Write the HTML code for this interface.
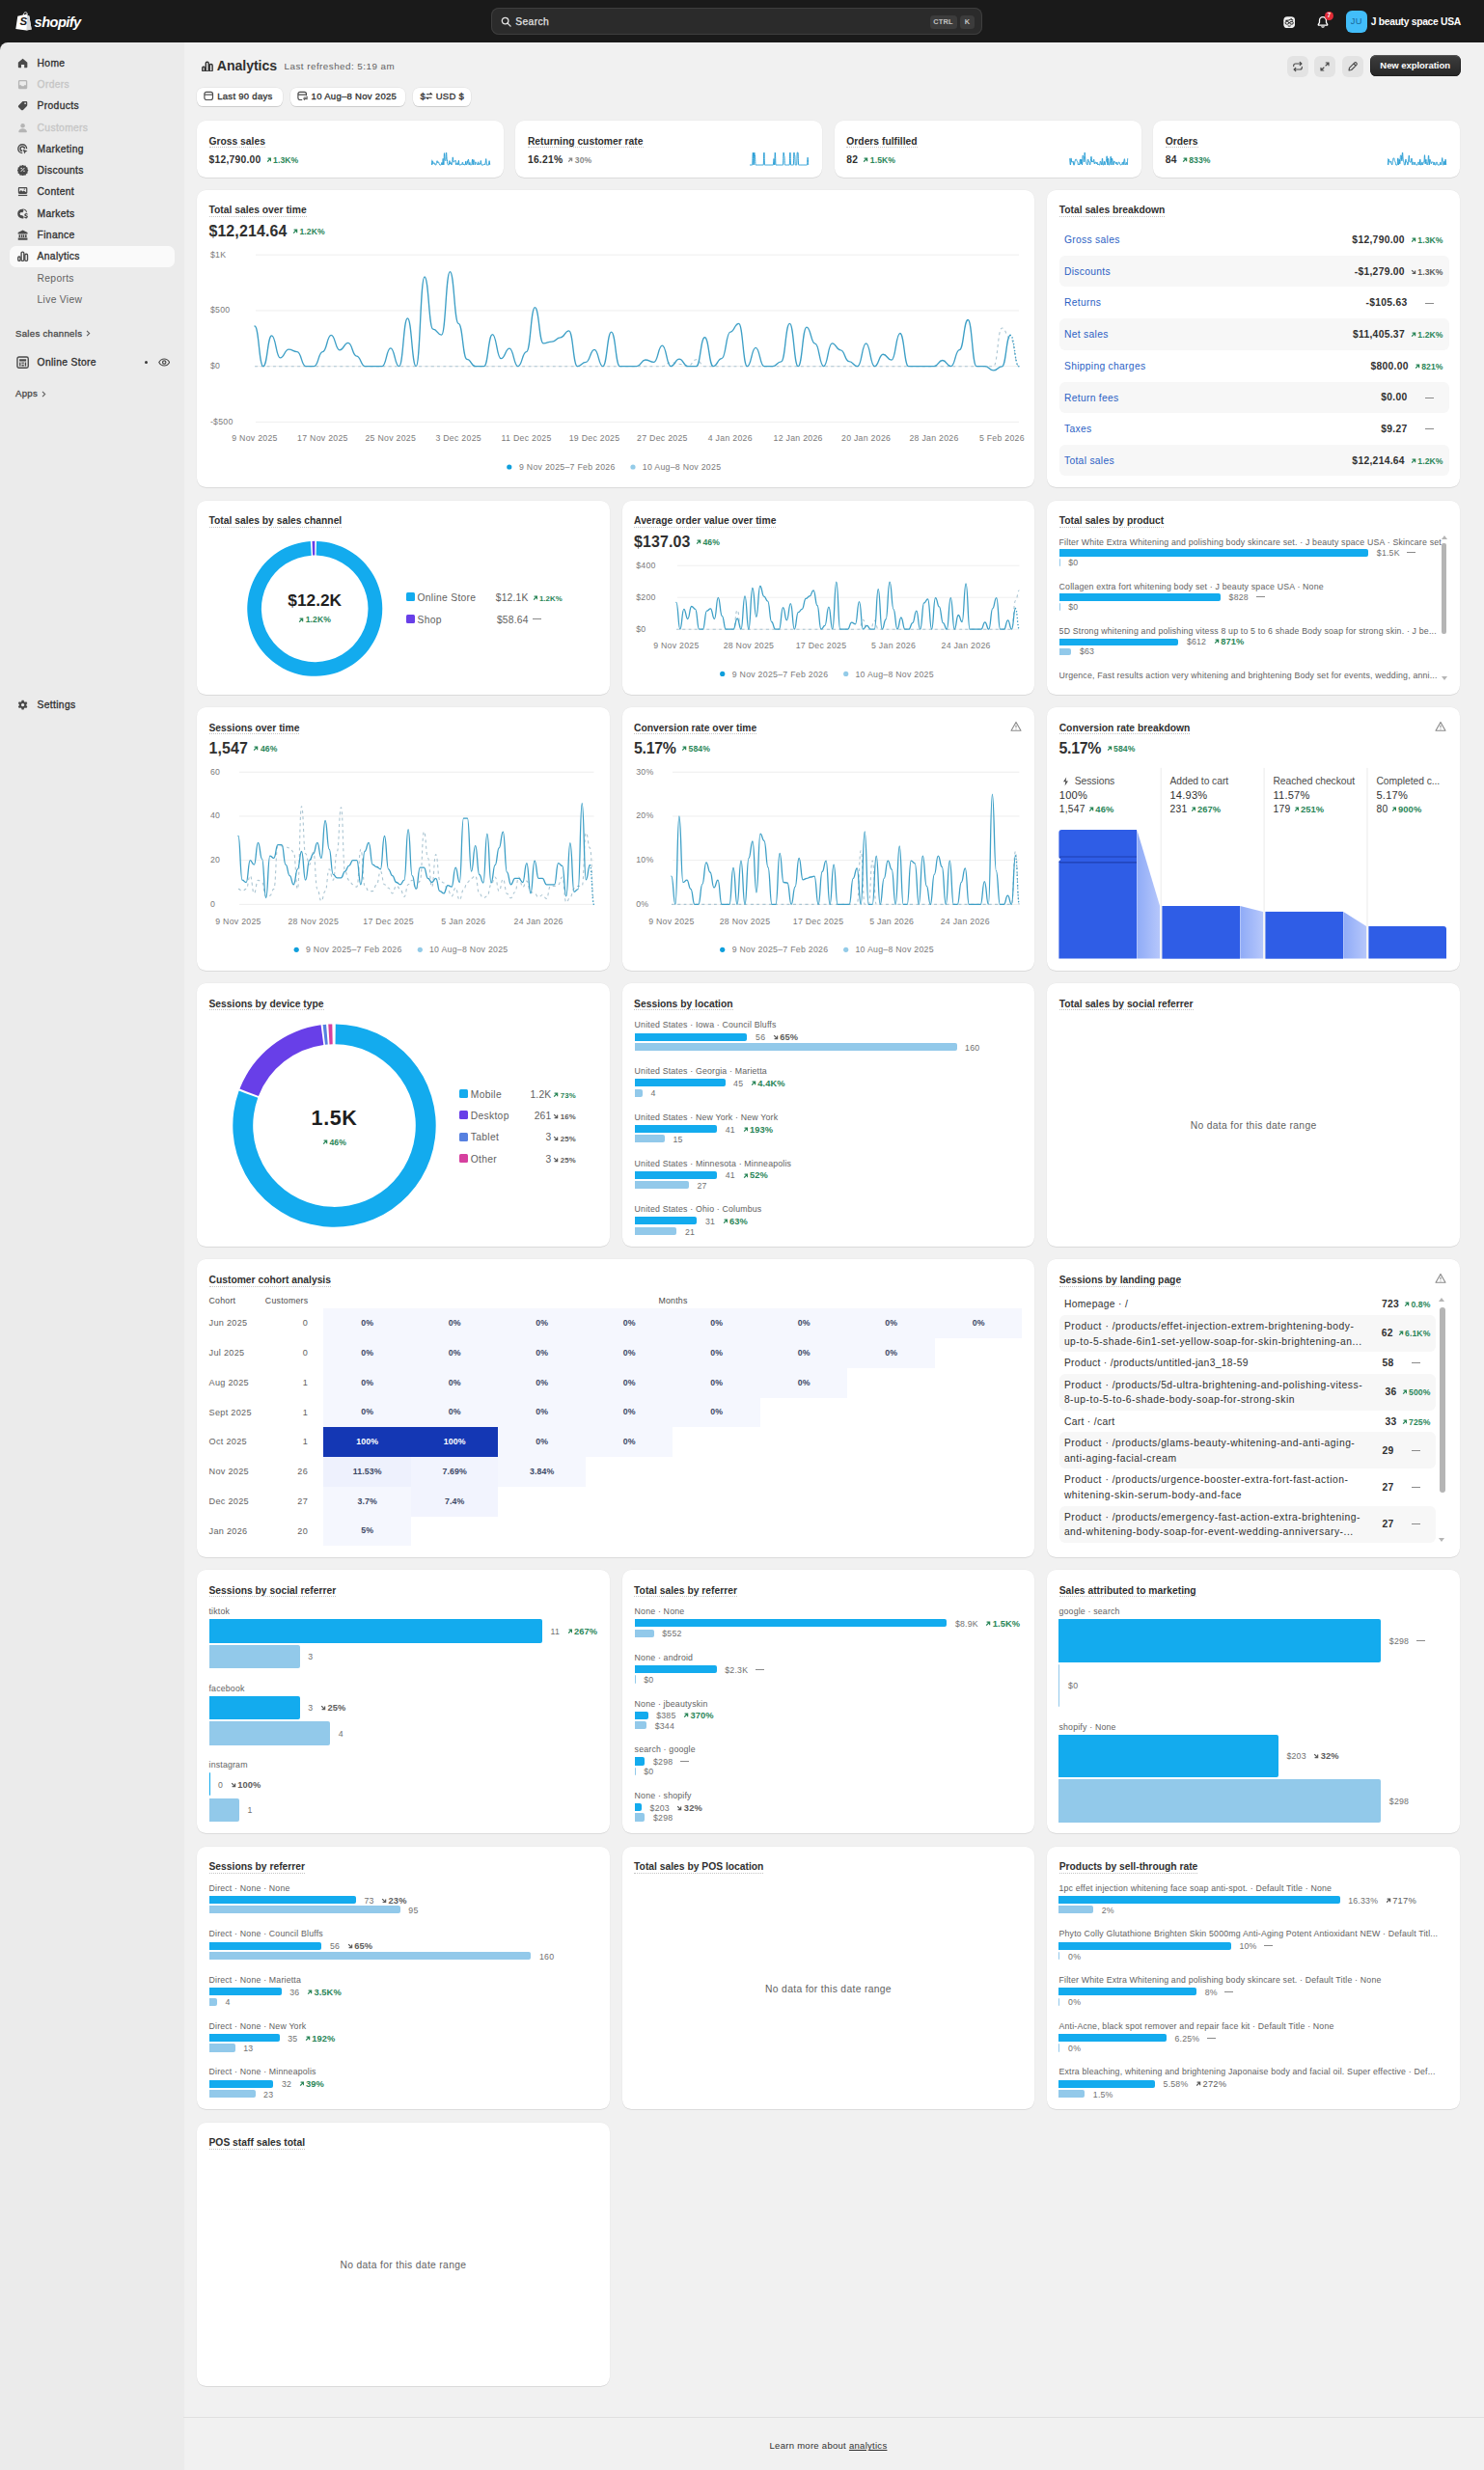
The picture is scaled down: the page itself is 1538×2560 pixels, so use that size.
<!DOCTYPE html><html lang="en"><head><meta charset="utf-8"><title>Analytics</title><style>
*{box-sizing:border-box;margin:0;padding:0}
html,body{width:1538px;height:2560px;overflow:hidden}
body{background:#1a1a1a;font-family:"Liberation Sans",sans-serif;font-size:10.3px;color:#303030;position:relative;-webkit-font-smoothing:antialiased}
.abs{position:absolute}
#top{position:absolute;left:0;top:0;width:1538px;height:44.3px;background:#1a1a1a}
#side{position:absolute;left:0;top:44.3px;width:190.5px;height:2516px;background:#ebebeb;border-top-left-radius:8px}
#main{position:absolute;left:190.5px;top:44.3px;width:1347.5px;height:2516px;background:#f1f1f1}
.card{position:absolute;background:#fff;border-radius:9.5px;box-shadow:0 1px 0 rgba(0,0,0,.075),0 0 0 .5px rgba(0,0,0,.035)}
.ct{position:absolute;left:12.5px;top:14.5px;font-weight:bold;font-size:10.3px;line-height:13px;white-space:nowrap;color:#303030}
.ct span{border-bottom:1.2px dotted #c4c4c4;padding-bottom:0;display:inline-block;line-height:11.6px}
.big{position:absolute;left:12.4px;top:34px;font-weight:bold;font-size:15.9px;line-height:18px;white-space:nowrap;color:#303030;letter-spacing:.15px}
.tr{font-weight:bold;font-size:8.6px;white-space:nowrap;letter-spacing:.1px}
.tr.up{color:#2a8659}.tr.dn{color:#5c5c5c}.tr.gy{color:#8a8a8a}
.ar{width:5.8px;height:5.8px;margin-right:1.6px;display:inline-block;vertical-align:.2px}.big .tr{position:relative;top:-1.7px}
.dash{display:inline-block;width:9px;height:1px;background:#8a8a8a;vertical-align:3px}
.ax{font-size:8.75px;fill:#7a7a7a;letter-spacing:.28px;font-family:"Liberation Sans",sans-serif}
.lc{position:absolute;left:0;top:0}
.warn{position:absolute;right:13.5px;top:13.6px;width:12px;height:12px}
.hl{position:absolute;font-size:8.75px;line-height:10px;color:#616161;letter-spacing:.19px;white-space:nowrap}
.hb{position:absolute;border-radius:0 2px 2px 0}
.b1{background:#13abee}.b2{background:#92c9ea}
.hv{position:absolute;font-size:8.75px;color:#707070;white-space:nowrap;letter-spacing:.2px}
.hv .tr{margin-left:5px;font-size:9.3px}
.nodata{position:absolute;left:0;width:100%;text-align:center;font-size:10.3px;color:#616161;letter-spacing:.33px;line-height:12px}

.sa{width:0;height:0;border-left:3px solid transparent;border-right:3px solid transparent}
.fl{font-size:10.3px;line-height:12px;color:#4a4a4a;letter-spacing:-.05px;white-space:nowrap}
.tr.xs{font-size:7.8px}
.tr.f{font-size:9.4px}

.ch{font-size:8.75px;line-height:11px;color:#4a4a4a;letter-spacing:.25px;white-space:nowrap}
.cl{font-size:9.1px;line-height:11px;color:#616161;letter-spacing:.3px;white-space:nowrap}
.cc{font-size:8.75px;font-weight:bold;text-align:center;letter-spacing:.1px}

.nv{font-size:10.300px;line-height:13px;letter-spacing:.33px;white-space:nowrap;color:#303030;-webkit-text-stroke:.32px currentColor}
.nv2{font-size:10.300px;line-height:13px;letter-spacing:.3px;white-space:nowrap;color:#616161}
.sh{font-size:9.600px;line-height:12px;color:#4a4a4a;white-space:nowrap;letter-spacing:.3px;-webkit-text-stroke:.3px currentColor}
.kbd{top:15.600px;height:14.500px;border-radius:3.500px;background:#3c3c3c;color:#c4c4c4;font-size:7.400px;font-weight:bold;line-height:14.500px;text-align:center;letter-spacing:.2px}
.chip{height:19.600px;border-radius:6.300px;background:#fff;box-shadow:0 1px 0 rgba(0,0,0,.12),0 0 0 .5px rgba(0,0,0,.07);font-size:9.500px;line-height:18.200px;padding-left:7.600px;white-space:nowrap;color:#303030;letter-spacing:.3px;-webkit-text-stroke:.3px currentColor}
</style></head><body><div id="top"><svg class="abs" style="left:15.800px;top:12px" width="17" height="19.600" viewBox="0 0 17 19.600"><path d="M2.300 4.700L10.200 3.100 11.200 2.600l1 .2.500 1.400 1.600.3 2.400 14.100-5.400 1L.3 18.100z" fill="#fff"/><path d="M8.200 4c0-1.700 1-3.300 2.500-3.300 1 0 1.500.9 1.600 2.300" fill="none" stroke="#fff" stroke-width=".9"/><path d="M12.300 2.900l-.9 16.500 5.300-1L14.300 4.500l-1.500-.3z" fill="#d9d9d9"/></svg><div class="abs" style="left:20.400px;top:14.600px;font-weight:bold;font-style:italic;font-size:11.500px;line-height:14px;color:#1a1a1a">S</div><div class="abs" style="left:35.600px;top:12.500px;font-weight:bold;font-style:italic;font-size:14.600px;line-height:20px;color:#fff;letter-spacing:-.55px">shopify</div><div class="abs" style="left:508.500px;top:7.800px;width:509px;height:28.500px;border-radius:8px;background:#2b2b2b;box-shadow:inset 0 0 0 1px #3e3e3e"></div><svg class="abs" style="left:518.500px;top:16.600px" width="11" height="11" viewBox="0 0 11 11"><circle cx="4.600" cy="4.600" r="3.300" fill="none" stroke="#e3e3e3" stroke-width="1.300"/><path d="M7.100 7.100l3 3" stroke="#e3e3e3" stroke-width="1.300" stroke-linecap="round"/></svg><div class="abs" style="left:534.300px;top:15.700px;font-size:10.300px;line-height:13px;color:#e3e3e3;letter-spacing:.35px;-webkit-text-stroke:.25px #e3e3e3">Search</div><div class="abs kbd" style="left:963.500px;width:28.200px">CTRL</div><div class="abs kbd" style="left:994.700px;width:15.600px">K</div><svg class="abs" style="left:1329.800px;top:16.800px" width="12.400" height="12.400" viewBox="0 0 12.400 12.400"><rect x=".3" y=".3" width="11.800" height="11.800" rx="3.900" fill="#f1f1f1"/><path d="M2.300 4.300c2.200.300 4.300-.200 6-1.600.500.700 1.100 1.200 1.900 1.500" fill="none" stroke="#1a1a1a" stroke-width="1.100"/><rect x="2.200" y="5.400" width="3.300" height="2.700" rx="1.100" fill="none" stroke="#1a1a1a" stroke-width=".95"/><rect x="6.900" y="5.400" width="3.300" height="2.700" rx="1.100" fill="none" stroke="#1a1a1a" stroke-width=".95"/><path d="M5.500 6.500h1.400M4.700 9.800c1 .500 2 .500 3 0" fill="none" stroke="#1a1a1a" stroke-width=".9"/></svg><svg class="abs" style="left:1364.800px;top:16px" width="12" height="13.400" viewBox="0 0 12 13.400"><path d="M6 1.700c-2.100 0-3.500 1.600-3.500 3.600v2.100L1.300 9.300c-.2.400 0 .8.500.8h8.400c.5 0 .7-.4.500-.8L9.500 7.400V5.300C9.500 3.300 8.100 1.700 6 1.700z" fill="none" stroke="#fff" stroke-width="1.300"/><path d="M4.600 11.300c.3.600.8.900 1.400.9s1.100-.3 1.400-.9" fill="none" stroke="#fff" stroke-width="1.200"/></svg><div class="abs" style="left:1373px;top:12.300px;width:8.600px;height:8.600px;border-radius:5px;background:#e22c38;color:#fff;font-size:6.500px;font-weight:bold;line-height:8.600px;text-align:center">7</div><div class="abs" style="left:1394.600px;top:11.300px;width:22.300px;height:22.300px;border-radius:6.200px;background:#42bdf9;color:#17679a;font-size:9.300px;line-height:22.300px;text-align:center;letter-spacing:.2px">JU</div><div class="abs" style="left:1420.800px;top:16px;font-size:10.300px;line-height:13px;font-weight:bold;color:#fff;white-space:nowrap;letter-spacing:-.3px">J beauty space USA</div></div><div id="side"><div class="abs" style="left:10px;top:210.6px;width:171.3px;height:21.8px;border-radius:6.5px;background:#fafafa"></div><svg class="abs" style="left:18.4px;top:15.6px;color:#4a4a4a" width="11.2" height="11.2" viewBox="0 0 12 12" fill="currentColor"><path d="M6 .9L.9 5.2V10.2c0 .5.4.9.9.9H4.3V7.6h3.4v3.5h2.5c.5 0 .9-.4.9-.9V5.2z"/></svg><div class="abs nv" style="left:38.6px;top:14.7px;color:#303030">Home</div><svg class="abs" style="left:18.4px;top:37.9px;color:#b5b5b5" width="11.2" height="11.2" viewBox="0 0 12 12" fill="currentColor"><path fill-rule="evenodd" d="M2.6 1h6.8c.9 0 1.6.7 1.6 1.6v6.8c0 .9-.7 1.6-1.6 1.6H2.6C1.700 11 1 10.300 1 9.400V2.600C1 1.700 1.700 1 2.600 1zM2.400 6.600h1.800l.7 1.300h2.200l.7-1.300h1.800V2.900c0-.3-.2-.5-.5-.5H2.900c-.3 0-.5.2-.5.5z"/></svg><div class="abs nv" style="left:38.6px;top:37px;color:#c6c6c6">Orders</div><svg class="abs" style="left:18.4px;top:60.1px;color:#4a4a4a" width="11.2" height="11.2" viewBox="0 0 12 12" fill="currentColor"><path fill-rule="evenodd" d="M6.700 1h3.200c.6 0 1.100.5 1.100 1.100v3.200c0 .4-.2.800-.4 1.100L6.400 10.600c-.6.600-1.500.600-2.100 0L1.400 7.700c-.6-.6-.6-1.500 0-2.100L5.600 1.400c.3-.2.700-.4 1.100-.4zM8.700 4.300a1 1 0 100-2 1 1 0 000 2z"/></svg><div class="abs nv" style="left:38.6px;top:59.2px;color:#303030">Products</div><svg class="abs" style="left:18.4px;top:82.5px;color:#b5b5b5" width="11.2" height="11.2" viewBox="0 0 12 12" fill="currentColor"><circle cx="6" cy="3.400" r="2.400"/><path d="M1.400 10.300c0-2.400 2-3.700 4.600-3.700s4.600 1.300 4.600 3.700c0 .4-.3.700-.7.700H2.100c-.4 0-.7-.3-.7-.7z"/></svg><div class="abs nv" style="left:38.6px;top:81.6px;color:#c6c6c6">Customers</div><svg class="abs" style="left:18.4px;top:104.7px;color:#4a4a4a" width="11.2" height="11.2" viewBox="0 0 12 12" fill="currentColor"><path fill="none" stroke="currentColor" stroke-width="1.550" d="M10.300 5.600A4.700 4.700 0 105.600 10.300M7.900 5.600A2.300 2.300 0 105.600 7.900"/><path d="M6.100 6.100l5.200 1.900-2.200 1.100-1.100 2.200z"/></svg><div class="abs nv" style="left:38.6px;top:103.8px;color:#303030">Marketing</div><svg class="abs" style="left:18.4px;top:126.9px;color:#4a4a4a" width="11.2" height="11.2" viewBox="0 0 12 12" fill="currentColor"><path fill-rule="evenodd" d="M6 .5l1.400 1 1.700-.2.700 1.600 1.600.7-.2 1.700 1 1.400-1 1.400.2 1.700-1.600.7-.7 1.600-1.700-.2-1.400 1-1.400-1-1.700.2-.7-1.600-1.600-.7.2-1.700-1-1.400 1-1.400-.2-1.700 1.600-.7.700-1.600 1.700.2zM4.500 5.300a.8.8 0 100-1.600.8.8 0 000 1.600zM7.500 8.300a.8.8 0 100-1.600.8.8 0 000 1.600zM4.200 8.300l4.100-4.100-.6-.6-4.100 4.100z" transform="translate(0 -.7)"/></svg><div class="abs nv" style="left:38.6px;top:126px;color:#303030">Discounts</div><svg class="abs" style="left:18.4px;top:149.1px;color:#4a4a4a" width="11.2" height="11.2" viewBox="0 0 12 12" fill="currentColor"><path fill-rule="evenodd" d="M2.300 1h7.400c.8 0 1.400.6 1.400 1.400v4.700c0 .8-.6 1.400-1.400 1.400H2.300C1.500 8.500.9 7.900.9 7.100V2.400C.9 1.600 1.500 1 2.300 1zM2.200 6.300l2-2 1.600 1.500 1.300-1 2.700 2V2.700c0-.2-.2-.4-.4-.4H2.600c-.2 0-.4.200-.4.400zM7.800 4a.7.7 0 100-1.400.7.7 0 000 1.400z"/><path d="M1 9.500h10v1.300H1z"/></svg><div class="abs nv" style="left:38.6px;top:148.2px;color:#303030">Content</div><svg class="abs" style="left:18.4px;top:171.4px;color:#4a4a4a" width="11.2" height="11.2" viewBox="0 0 12 12" fill="currentColor"><path fill-rule="evenodd" d="M5.500.700a5.300 5.300 0 100 10.600c.5 0 1-.100 1.500-.200V8.900L5.400 7.700l-2-.200-.8-1.700 1.300-1.600 1.900.300 1.100-1.500-.500-1.600c1.500.300 2.700 1.300 3.300 2.600h1.200A5.300 5.300 0 005.500.700z"/><path d="M9.300 5v.700c-.9.100-1.500.700-1.500 1.500 0 1 .8 1.300 1.500 1.500.6.200.8.300.8.600 0 .200-.2.400-.7.400-.4 0-.9-.200-1.200-.500l-.6.900c.4.400 1 .600 1.600.700v.700h1v-.700c.9-.100 1.500-.700 1.500-1.600 0-1-.800-1.300-1.500-1.500-.6-.200-.8-.300-.8-.500 0-.300.200-.400.600-.400s.7.100 1 .400l.6-.900c-.3-.300-.8-.500-1.300-.600V5z"/></svg><div class="abs nv" style="left:38.6px;top:170.5px;color:#303030">Markets</div><svg class="abs" style="left:18.4px;top:193.6px;color:#4a4a4a" width="11.2" height="11.2" viewBox="0 0 12 12" fill="currentColor"><path d="M6 .5l5.300 2.600v1.700H.7V3.100zM1.700 5.500h1.700v3H1.700zM4.200 5.500h1.500v3H4.200zM6.300 5.500h1.500v3H6.300zM8.600 5.500h1.700v3H8.600zM.8 9.200h10.400v2.200H.8z"/></svg><div class="abs nv" style="left:38.6px;top:192.7px;color:#303030">Finance</div><svg class="abs" style="left:18.4px;top:215.9px;color:#4a4a4a" width="11.2" height="11.2" viewBox="0 0 12 12" fill="currentColor"><g fill="none" stroke="currentColor" stroke-width="1.45"><rect x=".8" y="6.4" width="2.500" height="4.700" rx="1.100"/><rect x="4.400" y="1.200" width="2.900" height="9.900" rx="1.300"/><rect x="8.400" y="3.500" width="2.900" height="7.600" rx="1.300"/></g></svg><div class="abs nv" style="left:38.6px;top:215px;color:#303030">Analytics</div><div class="abs nv2" style="left:38.6px;top:237.4px">Reports</div><div class="abs nv2" style="left:38.6px;top:259.6px">Live View</div><div class="abs sh" style="left:16px;top:295.9px">Sales channels<svg width="5" height="7" viewBox="0 0 5 7" style="margin-left:4px;vertical-align:-.3px"><path d="M1 .8l2.700 2.700L1 6.200" fill="none" stroke="#616161" stroke-width="1.100"/></svg></div><svg class="abs" style="left:17.4px;top:324.7px;color:#4a4a4a" width="12.8" height="12.8" viewBox="0 0 12 12" fill="currentColor"><path fill="none" stroke="currentColor" stroke-width="1.300" d="M2.500.9h7.400c.9 0 1.600.7 1.600 1.600v7.400c0 .9-.7 1.600-1.600 1.600H2.500c-.9 0-1.600-.7-1.600-1.600V2.500C.9 1.600 1.600.9 2.500.9z"/><path d="M2.900 3h6.600v2.200H2.900zM2.900 6.100h1.300v3.800H2.900zM8.200 6.100h1.300v3.800H8.200zM5 6.100h2.400v1.200H5zM5.100 8.200h2.200v1.700H5.100z"/></svg><div class="abs nv" style="left:38.6px;top:324.6px">Online Store</div><div class="abs" style="left:149.8px;top:330px;width:3.200px;height:3.200px;border-radius:2px;background:#3a3a3a"></div><svg class="abs" style="left:164px;top:326.7px" width="12.400" height="9" viewBox="0 0 12.400 9"><path d="M.8 4.500C2 2.200 3.900 1 6.200 1s4.200 1.200 5.400 3.500C10.400 6.800 8.500 8 6.200 8S2 6.800.8 4.500z" fill="none" stroke="#4a4a4a" stroke-width="1.200"/><circle cx="6.200" cy="4.500" r="1.700" fill="none" stroke="#4a4a4a" stroke-width="1.200"/></svg><div class="abs sh" style="left:16px;top:358px">Apps<svg width="5" height="7" viewBox="0 0 5 7" style="margin-left:4px;vertical-align:-.3px"><path d="M1 .8l2.700 2.700L1 6.200" fill="none" stroke="#616161" stroke-width="1.100"/></svg></div><svg class="abs" style="left:18.4px;top:680.8px;color:#4a4a4a" width="11.2" height="11.2" viewBox="0 0 12 12" fill="currentColor"><path fill-rule="evenodd" d="M4.900.7h2.200l.4 1.500 1 .6 1.500-.5 1.100 1.900-1.100 1.100v1.200l1.100 1.100-1.100 1.900-1.500-.5-1 .6-.4 1.500H4.900l-.4-1.500-1-.6-1.500.5L.9 7.600 2 6.500V5.300L.9 4.200 2 2.300l1.500.5 1-.6zM6 7.700a1.800 1.800 0 100-3.600 1.800 1.800 0 000 3.600z" transform="translate(0 .1)"/></svg><div class="abs nv" style="left:38.6px;top:679.9px">Settings</div></div><div id="main"></div><svg class="abs" style="left:208.8px;top:62.7px;color:#303030" width="11.8" height="11.8" viewBox="0 0 12 12" fill="currentColor"><g fill="none" stroke="currentColor" stroke-width="1.45"><rect x=".8" y="6.4" width="2.500" height="4.700" rx="1.100"/><rect x="4.400" y="1.200" width="2.900" height="9.900" rx="1.300"/><rect x="8.400" y="3.500" width="2.900" height="7.600" rx="1.300"/></g></svg><div class="abs" style="left:224.800px;top:59.300px;font-size:14.100px;font-weight:bold;line-height:18px;color:#303030;letter-spacing:-.05px">Analytics</div><div class="abs" style="left:294.600px;top:63.100px;font-size:9.800px;line-height:12px;color:#616161;letter-spacing:.48px;white-space:nowrap">Last refreshed: 5:19 am</div><div class="abs chip" style="left:203.8px;top:90.500px;width:89.5px"><svg width="10.400" height="10.400" viewBox="0 0 10.400 10.400" style="vertical-align:-1.800px;margin-right:3.400px"><rect x=".9" y="1.400" width="8.600" height="8.100" rx="2" fill="none" stroke="#4a4a4a" stroke-width="1.150"/><path d="M.9 4.100h8.600" stroke="#4a4a4a" stroke-width="1.150"/></svg>Last 90 days</div><div class="abs chip" style="left:300.8px;top:90.500px;width:119.5px"><svg width="11.400" height="10.400" viewBox="0 0 11.400 10.400" style="vertical-align:-1.800px;margin-right:2.800px"><path d="M5.200 9.500H2.900c-1.100 0-2-.9-2-2V3.400c0-1.100.9-2 2-2h4.600c1.100 0 2 .9 2 2v1.800M.9 4.100h8.600" fill="none" stroke="#4a4a4a" stroke-width="1.150"/><path d="M6.600 7.100h4.200l-1.100-1.100M10.800 8.600H6.600l1.100 1.100" fill="none" stroke="#4a4a4a" stroke-width="1"/></svg>10 Aug–8 Nov 2025</div><div class="abs chip" style="left:428px;top:90.500px;width:59.8px"><span style="letter-spacing:-.2px">$</span><svg width="7.500" height="9" viewBox="0 0 7.500 9" style="vertical-align:-1px;margin:0 3px 0 .5px"><path d="M1 2.800h5.400L4.800 1.200M6.500 6.200H1.100l1.600 1.600" fill="none" stroke="#303030" stroke-width="1.100"/></svg>USD $</div><div class="abs" style="left:1334px;top:57.500px;width:21.800px;height:22px;border-radius:6.200px;background:#e3e3e3"></div><svg class="abs" style="left:1338.9px;top:62.500px" width="12" height="12" viewBox="0 0 12 12" fill="none" stroke="#4a4a4a" stroke-width="1.150" stroke-linecap="round" stroke-linejoin="round"><path d="M1.700 5.600V5c0-1.100.9-2 2-2h6M8.200 1.300L9.900 3 8.200 4.700M10.300 6.400V7c0 1.100-.9 2-2 2h-6M3.800 10.700L2.100 9l1.700-1.700"/></svg><div class="abs" style="left:1362.4px;top:57.500px;width:21.800px;height:22px;border-radius:6.200px;background:#e3e3e3"></div><svg class="abs" style="left:1367.3px;top:62.500px" width="12" height="12" viewBox="0 0 12 12" fill="none" stroke="#4a4a4a" stroke-width="1.150" stroke-linecap="round" stroke-linejoin="round"><path d="M7.200 2h2.800v2.800M10 2L7 5M4.800 10H2V7.200M2 10l3-3"/></svg><div class="abs" style="left:1391px;top:57.500px;width:21.800px;height:22px;border-radius:6.200px;background:#e3e3e3"></div><svg class="abs" style="left:1395.9px;top:62.500px" width="12" height="12" viewBox="0 0 12 12" fill="none" stroke="#4a4a4a" stroke-width="1.150" stroke-linecap="round" stroke-linejoin="round"><path d="M7.700 2.200c.6-.6 1.500-.6 2.100 0s.6 1.500 0 2.100L4.600 9.500 2 10l.5-2.600zM7 3l2 2"/></svg><div class="abs" style="left:1419.600px;top:57.100px;width:94.100px;height:22.300px;border-radius:6.400px;background:linear-gradient(#3d3d3d,#262626);box-shadow:inset 0 1px 0 rgba(255,255,255,.2),inset 0 0 0 .6px #1a1a1a;color:#fff;font-weight:bold;font-size:9.500px;line-height:22.400px;text-align:center;letter-spacing:-.05px">New exploration</div><div class="card " style="left:204px;top:125px;width:317.7px;height:59.4px"><div class="ct" style="top:14.6px"><span>Gross sales</span></div><div class="abs" style="left:12.5px;top:33.6px;font-weight:bold;font-size:10.3px;line-height:13px;white-space:nowrap;letter-spacing:.25px">$12,790.00 <span style="margin-left:2px"><span class="tr up "><svg class="ar" viewBox="0 0 8 8"><path d="M2.2 1.6h4.2v4.2M6.2 1.8L1.6 6.4" fill="none" stroke="currentColor" stroke-width="1.7"/></svg>1.3K%</span></span></div><svg class="abs" style="left:242.9px;top:32.1px" width="62" height="15" viewBox="0 0 62 15"><path d="M0.0,8.5C0.3,8.5 0.3,14.0 0.7,14.0C1.0,14.0 1.0,9.8 1.4,9.8C1.7,9.8 1.7,12.8 2.0,12.8C2.4,12.8 2.4,11.7 2.7,11.7C3.0,11.7 3.0,12.0 3.4,12.0C3.7,12.0 3.7,14.0 4.1,14.0C4.4,14.0 4.4,14.0 4.7,14.0C5.1,14.0 5.1,12.0 5.4,12.0C5.7,12.0 5.7,9.7 6.1,9.7C6.4,9.7 6.4,11.8 6.8,11.8C7.1,11.8 7.1,10.8 7.4,10.8C7.8,10.8 7.8,12.6 8.1,12.6C8.4,12.6 8.4,14.0 8.8,14.0C9.1,14.0 9.1,14.0 9.5,14.0C9.8,14.0 9.8,14.0 10.1,14.0C10.5,14.0 10.5,11.5 10.8,11.5C11.1,11.5 11.1,14.0 11.5,14.0C11.8,14.0 11.8,7.4 12.2,7.4C12.5,7.4 12.5,14.0 12.8,14.0C13.2,14.0 13.2,1.7 13.5,1.7C13.8,1.7 13.8,8.9 14.2,8.9C14.5,8.9 14.5,9.7 14.9,9.7C15.2,9.7 15.2,1.0 15.5,1.0C15.9,1.0 15.9,8.1 16.2,8.1C16.6,8.1 16.6,13.0 16.9,13.0C17.2,13.0 17.2,14.0 17.6,14.0C17.9,14.0 17.9,14.0 18.2,14.0C18.6,14.0 18.6,9.6 18.9,9.6C19.3,9.6 19.3,12.9 19.6,12.9C19.9,12.9 19.9,11.5 20.3,11.5C20.6,11.5 20.6,14.0 20.9,14.0C21.3,14.0 21.3,12.0 21.6,12.0C22.0,12.0 22.0,5.9 22.3,5.9C22.6,5.9 22.6,10.8 23.0,10.8C23.3,10.8 23.3,10.6 23.6,10.6C24.0,10.6 24.0,10.0 24.3,10.0C24.7,10.0 24.7,9.1 25.0,9.1C25.3,9.1 25.3,14.0 25.7,14.0C26.0,14.0 26.0,13.4 26.3,13.4C26.7,13.4 26.7,11.7 27.0,11.7C27.4,11.7 27.4,14.0 27.7,14.0C28.0,14.0 28.0,9.3 28.4,9.3C28.7,9.3 28.7,14.0 29.0,14.0C29.4,14.0 29.4,14.0 29.7,14.0C30.1,14.0 30.1,14.0 30.4,14.0C30.7,14.0 30.7,13.1 31.1,13.1C31.4,13.1 31.4,13.4 31.8,13.4C32.1,13.4 32.1,11.1 32.4,11.1C32.8,11.1 32.8,14.0 33.1,14.0C33.4,14.0 33.4,13.0 33.8,13.0C34.1,13.0 34.1,14.0 34.5,14.0C34.8,14.0 34.8,14.0 35.1,14.0C35.5,14.0 35.5,10.0 35.8,10.0C36.1,10.0 36.1,14.0 36.5,14.0C36.8,14.0 36.8,12.9 37.2,12.9C37.5,12.9 37.5,9.3 37.8,9.3C38.2,9.3 38.2,8.1 38.5,8.1C38.8,8.1 38.8,14.0 39.2,14.0C39.5,14.0 39.5,11.4 39.9,11.4C40.2,11.4 40.2,14.0 40.5,14.0C40.9,14.0 40.9,14.0 41.2,14.0C41.5,14.0 41.5,13.4 41.9,13.4C42.2,13.4 42.2,8.1 42.6,8.1C42.9,8.1 42.9,14.0 43.2,14.0C43.6,14.0 43.6,8.6 43.9,8.6C44.2,8.6 44.2,10.9 44.6,10.9C44.9,10.9 44.9,14.0 45.3,14.0C45.6,14.0 45.6,10.8 45.9,10.8C46.3,10.8 46.3,11.8 46.6,11.8C47.0,11.8 47.0,13.3 47.3,13.3C47.6,13.3 47.6,14.0 48.0,14.0C48.3,14.0 48.3,10.8 48.6,10.8C49.0,10.8 49.0,14.0 49.3,14.0C49.7,14.0 49.7,12.4 50.0,12.4C50.3,12.4 50.3,13.1 50.7,13.1C51.0,13.1 51.0,9.5 51.3,9.5C51.7,9.5 51.7,14.0 52.0,14.0C52.4,14.0 52.4,14.0 52.7,14.0C53.0,14.0 53.0,14.0 53.4,14.0C53.7,14.0 53.7,14.0 54.0,14.0C54.4,14.0 54.4,13.2 54.7,13.2C55.1,13.2 55.1,14.0 55.4,14.0C55.7,14.0 55.7,11.7 56.1,11.7C56.4,11.7 56.4,7.6 56.7,7.6C57.1,7.6 57.1,14.0 57.4,14.0C57.8,14.0 57.8,14.0 58.1,14.0C58.4,14.0 58.4,14.0 58.8,14.0C59.1,14.0 59.1,14.0 59.4,14.0C59.8,14.0 59.8,9.7 60.1,9.7C60.5,9.7 60.5,14.0 60.8,14.0" fill="none" stroke="#2a9fd6" stroke-width="1" stroke-linejoin="round"/></svg></div><div class="card " style="left:534.42px;top:125px;width:317.7px;height:59.4px"><div class="ct" style="top:14.6px"><span>Returning customer rate</span></div><div class="abs" style="left:12.5px;top:33.6px;font-weight:bold;font-size:10.3px;line-height:13px;white-space:nowrap;letter-spacing:.25px">16.21% <span style="margin-left:2px"><span class="tr up gy"><svg class="ar" viewBox="0 0 8 8"><path d="M2.2 1.6h4.2v4.2M6.2 1.8L1.6 6.4" fill="none" stroke="currentColor" stroke-width="1.7"/></svg>30%</span></span></div><svg class="abs" style="left:242.9px;top:32.1px" width="62" height="15" viewBox="0 0 62 15"><path d="M0.0,14.0C0.3,14.0 0.3,14.0 0.7,14.0C1.0,14.0 1.0,14.0 1.4,14.0C1.7,14.0 1.7,14.0 2.0,14.0C2.4,14.0 2.4,14.0 2.7,14.0C3.0,14.0 3.0,1.0 3.4,1.0C3.7,1.0 3.7,14.0 4.1,14.0C4.4,14.0 4.4,1.0 4.7,1.0C5.1,1.0 5.1,3.6 5.4,3.6C5.7,3.6 5.7,14.0 6.1,14.0C6.4,14.0 6.4,14.0 6.8,14.0C7.1,14.0 7.1,14.0 7.4,14.0C7.8,14.0 7.8,14.0 8.1,14.0C8.4,14.0 8.4,14.0 8.8,14.0C9.1,14.0 9.1,14.0 9.5,14.0C9.8,14.0 9.8,14.0 10.1,14.0C10.5,14.0 10.5,14.0 10.8,14.0C11.1,14.0 11.1,14.0 11.5,14.0C11.8,14.0 11.8,14.0 12.2,14.0C12.5,14.0 12.5,14.0 12.8,14.0C13.2,14.0 13.2,14.0 13.5,14.0C13.8,14.0 13.8,14.0 14.2,14.0C14.5,14.0 14.5,1.0 14.9,1.0C15.2,1.0 15.2,14.0 15.5,14.0C15.9,14.0 15.9,14.0 16.2,14.0C16.6,14.0 16.6,14.0 16.9,14.0C17.2,14.0 17.2,14.0 17.6,14.0C17.9,14.0 17.9,14.0 18.2,14.0C18.6,14.0 18.6,14.0 18.9,14.0C19.3,14.0 19.3,14.0 19.6,14.0C19.9,14.0 19.9,14.0 20.3,14.0C20.6,14.0 20.6,14.0 20.9,14.0C21.3,14.0 21.3,14.0 21.6,14.0C22.0,14.0 22.0,14.0 22.3,14.0C22.6,14.0 22.6,14.0 23.0,14.0C23.3,14.0 23.3,14.0 23.6,14.0C24.0,14.0 24.0,14.0 24.3,14.0C24.7,14.0 24.7,7.5 25.0,7.5C25.3,7.5 25.3,14.0 25.7,14.0C26.0,14.0 26.0,1.0 26.3,1.0C26.7,1.0 26.7,14.0 27.0,14.0C27.4,14.0 27.4,14.0 27.7,14.0C28.0,14.0 28.0,14.0 28.4,14.0C28.7,14.0 28.7,14.0 29.0,14.0C29.4,14.0 29.4,14.0 29.7,14.0C30.1,14.0 30.1,14.0 30.4,14.0C30.7,14.0 30.7,14.0 31.1,14.0C31.4,14.0 31.4,14.0 31.8,14.0C32.1,14.0 32.1,14.0 32.4,14.0C32.8,14.0 32.8,14.0 33.1,14.0C33.4,14.0 33.4,14.0 33.8,14.0C34.1,14.0 34.1,14.0 34.5,14.0C34.8,14.0 34.8,1.0 35.1,1.0C35.5,1.0 35.5,4.9 35.8,4.9C36.1,4.9 36.1,14.0 36.5,14.0C36.8,14.0 36.8,14.0 37.2,14.0C37.5,14.0 37.5,14.0 37.8,14.0C38.2,14.0 38.2,14.0 38.5,14.0C38.8,14.0 38.8,14.0 39.2,14.0C39.5,14.0 39.5,14.0 39.9,14.0C40.2,14.0 40.2,14.0 40.5,14.0C40.9,14.0 40.9,14.0 41.2,14.0C41.5,14.0 41.5,1.0 41.9,1.0C42.2,1.0 42.2,14.0 42.6,14.0C42.9,14.0 42.9,14.0 43.2,14.0C43.6,14.0 43.6,14.0 43.9,14.0C44.2,14.0 44.2,14.0 44.6,14.0C44.9,14.0 44.9,14.0 45.3,14.0C45.6,14.0 45.6,1.0 45.9,1.0C46.3,1.0 46.3,3.6 46.6,3.6C47.0,3.6 47.0,14.0 47.3,14.0C47.6,14.0 47.6,14.0 48.0,14.0C48.3,14.0 48.3,14.0 48.6,14.0C49.0,14.0 49.0,1.0 49.3,1.0C49.7,1.0 49.7,1.0 50.0,1.0C50.3,1.0 50.3,14.0 50.7,14.0C51.0,14.0 51.0,14.0 51.3,14.0C51.7,14.0 51.7,14.0 52.0,14.0C52.4,14.0 52.4,14.0 52.7,14.0C53.0,14.0 53.0,14.0 53.4,14.0C53.7,14.0 53.7,14.0 54.0,14.0C54.4,14.0 54.4,14.0 54.7,14.0C55.1,14.0 55.1,14.0 55.4,14.0C55.7,14.0 55.7,14.0 56.1,14.0C56.4,14.0 56.4,14.0 56.7,14.0C57.1,14.0 57.1,14.0 57.4,14.0C57.8,14.0 57.8,14.0 58.1,14.0C58.4,14.0 58.4,14.0 58.8,14.0C59.1,14.0 59.1,14.0 59.4,14.0C59.8,14.0 59.8,6.2 60.1,6.2C60.5,6.2 60.5,14.0 60.8,14.0" fill="none" stroke="#2a9fd6" stroke-width="1" stroke-linejoin="round"/></svg></div><div class="card " style="left:864.84px;top:125px;width:317.7px;height:59.4px"><div class="ct" style="top:14.6px"><span>Orders fulfilled</span></div><div class="abs" style="left:12.5px;top:33.6px;font-weight:bold;font-size:10.3px;line-height:13px;white-space:nowrap;letter-spacing:.25px">82 <span style="margin-left:2px"><span class="tr up "><svg class="ar" viewBox="0 0 8 8"><path d="M2.2 1.6h4.2v4.2M6.2 1.8L1.6 6.4" fill="none" stroke="currentColor" stroke-width="1.7"/></svg>1.5K%</span></span></div><svg class="abs" style="left:242.9px;top:32.1px" width="62" height="15" viewBox="0 0 62 15"><path d="M0.0,7.0C0.3,7.0 0.3,8.1 0.7,8.1C1.0,8.1 1.0,14.0 1.4,14.0C1.7,14.0 1.7,6.9 2.0,6.9C2.4,6.9 2.4,11.0 2.7,11.0C3.0,11.0 3.0,11.1 3.4,11.1C3.7,11.1 3.7,10.0 4.1,10.0C4.4,10.0 4.4,14.0 4.7,14.0C5.1,14.0 5.1,14.0 5.4,14.0C5.7,14.0 5.7,9.9 6.1,9.9C6.4,9.9 6.4,8.1 6.8,8.1C7.1,8.1 7.1,8.1 7.4,8.1C7.8,8.1 7.8,9.8 8.1,9.8C8.4,9.8 8.4,11.1 8.8,11.1C9.1,11.1 9.1,14.0 9.5,14.0C9.8,14.0 9.8,12.9 10.1,12.9C10.5,12.9 10.5,14.0 10.8,14.0C11.1,14.0 11.1,8.1 11.5,8.1C11.8,8.1 11.8,12.9 12.2,12.9C12.5,12.9 12.5,8.1 12.8,8.1C13.2,8.1 13.2,14.0 13.5,14.0C13.8,14.0 13.8,4.1 14.2,4.1C14.5,4.1 14.5,5.1 14.9,5.1C15.2,5.1 15.2,11.0 15.5,11.0C15.9,11.0 15.9,1.0 16.2,1.0C16.6,1.0 16.6,8.2 16.9,8.2C17.2,8.2 17.2,11.0 17.6,11.0C17.9,11.0 17.9,12.9 18.2,12.9C18.6,12.9 18.6,14.0 18.9,14.0C19.3,14.0 19.3,8.0 19.6,8.0C19.9,8.0 19.9,9.9 20.3,9.9C20.6,9.9 20.6,11.1 20.9,11.1C21.3,11.1 21.3,14.0 21.6,14.0C22.0,14.0 22.0,10.0 22.3,10.0C22.6,10.0 22.6,5.3 23.0,5.3C23.3,5.3 23.3,11.0 23.6,11.0C24.0,11.0 24.0,9.9 24.3,9.9C24.7,9.9 24.7,11.1 25.0,11.1C25.3,11.1 25.3,8.1 25.7,8.1C26.0,8.1 26.0,12.9 26.3,12.9C26.7,12.9 26.7,11.1 27.0,11.1C27.4,11.1 27.4,11.1 27.7,11.1C28.0,11.1 28.0,12.9 28.4,12.9C28.7,12.9 28.7,11.1 29.0,11.1C29.4,11.1 29.4,14.0 29.7,14.0C30.1,14.0 30.1,12.9 30.4,12.9C30.7,12.9 30.7,14.0 31.1,14.0C31.4,14.0 31.4,14.0 31.8,14.0C32.1,14.0 32.1,10.0 32.4,10.0C32.8,10.0 32.8,11.1 33.1,11.1C33.4,11.1 33.4,14.0 33.8,14.0C34.1,14.0 34.1,7.1 34.5,7.1C34.8,7.1 34.8,14.0 35.1,14.0C35.5,14.0 35.5,14.0 35.8,14.0C36.1,14.0 36.1,10.1 36.5,10.1C36.8,10.1 36.8,14.0 37.2,14.0C37.5,14.0 37.5,11.1 37.8,11.1C38.2,11.1 38.2,9.9 38.5,9.9C38.8,9.9 38.8,4.8 39.2,4.8C39.5,4.8 39.5,14.0 39.9,14.0C40.2,14.0 40.2,7.0 40.5,7.0C40.9,7.0 40.9,14.0 41.2,14.0C41.5,14.0 41.5,14.0 41.9,14.0C42.2,14.0 42.2,10.0 42.6,10.0C42.9,10.0 42.9,5.2 43.2,5.2C43.6,5.2 43.6,14.0 43.9,14.0C44.2,14.0 44.2,7.1 44.6,7.1C44.9,7.1 44.9,10.8 45.3,10.8C45.6,10.8 45.6,14.0 45.9,14.0C46.3,14.0 46.3,9.9 46.6,9.9C47.0,9.9 47.0,11.1 47.3,11.1C47.6,11.1 47.6,11.0 48.0,11.0C48.3,11.0 48.3,12.9 48.6,12.9C49.0,12.9 49.0,11.1 49.3,11.1C49.7,11.1 49.7,14.0 50.0,14.0C50.3,14.0 50.3,12.9 50.7,12.9C51.0,12.9 51.0,11.1 51.3,11.1C51.7,11.1 51.7,11.1 52.0,11.1C52.4,11.1 52.4,12.9 52.7,12.9C53.0,12.9 53.0,14.0 53.4,14.0C53.7,14.0 53.7,14.0 54.0,14.0C54.4,14.0 54.4,12.9 54.7,12.9C55.1,12.9 55.1,11.1 55.4,11.1C55.7,11.1 55.7,14.0 56.1,14.0C56.4,14.0 56.4,10.1 56.7,10.1C57.1,10.1 57.1,7.7 57.4,7.7C57.8,7.7 57.8,14.0 58.1,14.0C58.4,14.0 58.4,12.9 58.8,12.9C59.1,12.9 59.1,11.3 59.4,11.3C59.8,11.3 59.8,14.0 60.1,14.0C60.5,14.0 60.5,7.1 60.8,7.1" fill="none" stroke="#2a9fd6" stroke-width="1" stroke-linejoin="round"/></svg></div><div class="card " style="left:1195.26px;top:125px;width:317.7px;height:59.4px"><div class="ct" style="top:14.6px"><span>Orders</span></div><div class="abs" style="left:12.5px;top:33.6px;font-weight:bold;font-size:10.3px;line-height:13px;white-space:nowrap;letter-spacing:.25px">84 <span style="margin-left:2px"><span class="tr up "><svg class="ar" viewBox="0 0 8 8"><path d="M2.2 1.6h4.2v4.2M6.2 1.8L1.6 6.4" fill="none" stroke="currentColor" stroke-width="1.7"/></svg>833%</span></span></div><svg class="abs" style="left:242.9px;top:32.1px" width="62" height="15" viewBox="0 0 62 15"><path d="M0.0,7.0C0.3,7.0 0.3,14.0 0.7,14.0C1.0,14.0 1.0,8.1 1.4,8.1C1.7,8.1 1.7,11.0 2.0,11.0C2.4,11.0 2.4,11.1 2.7,11.1C3.0,11.1 3.0,9.9 3.4,9.9C3.7,9.9 3.7,12.8 4.1,12.8C4.4,12.8 4.4,14.0 4.7,14.0C5.1,14.0 5.1,9.8 5.4,9.8C5.7,9.8 5.7,6.9 6.1,6.9C6.4,6.9 6.4,7.0 6.8,7.0C7.1,7.0 7.1,9.8 7.4,9.8C7.8,9.8 7.8,11.1 8.1,11.1C8.4,11.1 8.4,14.0 8.8,14.0C9.1,14.0 9.1,14.0 9.5,14.0C9.8,14.0 9.8,14.0 10.1,14.0C10.5,14.0 10.5,6.9 10.8,6.9C11.1,6.9 11.1,14.0 11.5,14.0C11.8,14.0 11.8,8.2 12.2,8.2C12.5,8.2 12.5,12.8 12.8,12.8C13.2,12.8 13.2,4.1 13.5,4.1C13.8,4.1 13.8,3.9 14.2,3.9C14.5,3.9 14.5,9.8 14.9,9.8C15.2,9.8 15.2,1.0 15.5,1.0C15.9,1.0 15.9,8.2 16.2,8.2C16.6,8.2 16.6,11.0 16.9,11.0C17.2,11.0 17.2,14.0 17.6,14.0C17.9,14.0 17.9,14.0 18.2,14.0C18.6,14.0 18.6,8.0 18.9,8.0C19.3,8.0 19.3,11.0 19.6,11.0C19.9,11.0 19.9,11.1 20.3,11.1C20.6,11.1 20.6,14.0 20.9,14.0C21.3,14.0 21.3,10.0 21.6,10.0C22.0,10.0 22.0,4.1 22.3,4.1C22.6,4.1 22.6,11.0 23.0,11.0C23.3,11.0 23.3,11.0 23.6,11.0C24.0,11.0 24.0,11.1 24.3,11.1C24.7,11.1 24.7,7.0 25.0,7.0C25.3,7.0 25.3,14.0 25.7,14.0C26.0,14.0 26.0,11.2 26.3,11.2C26.7,11.2 26.7,11.1 27.0,11.1C27.4,11.1 27.4,14.0 27.7,14.0C28.0,14.0 28.0,11.1 28.4,11.1C28.7,11.1 28.7,12.8 29.0,12.8C29.4,12.8 29.4,14.0 29.7,14.0C30.1,14.0 30.1,14.0 30.4,14.0C30.7,14.0 30.7,14.0 31.1,14.0C31.4,14.0 31.4,11.1 31.8,11.1C32.1,11.1 32.1,11.1 32.4,11.1C32.8,11.1 32.8,14.0 33.1,14.0C33.4,14.0 33.4,8.2 33.8,8.2C34.1,8.2 34.1,14.0 34.5,14.0C34.8,14.0 34.8,14.0 35.1,14.0C35.5,14.0 35.5,11.2 35.8,11.2C36.1,11.2 36.1,14.0 36.5,14.0C36.8,14.0 36.8,11.1 37.2,11.1C37.5,11.1 37.5,11.1 37.8,11.1C38.2,11.1 38.2,3.7 38.5,3.7C38.8,3.7 38.8,12.8 39.2,12.8C39.5,12.8 39.5,8.2 39.9,8.2C40.2,8.2 40.2,12.8 40.5,12.8C40.9,12.8 40.9,14.0 41.2,14.0C41.5,14.0 41.5,11.1 41.9,11.1C42.2,11.1 42.2,4.0 42.6,4.0C42.9,4.0 42.9,14.0 43.2,14.0C43.6,14.0 43.6,8.2 43.9,8.2C44.2,8.2 44.2,9.6 44.6,9.6C44.9,9.6 44.9,12.8 45.3,12.8C45.6,12.8 45.6,11.0 45.9,11.0C46.3,11.0 46.3,11.1 46.6,11.1C47.0,11.1 47.0,11.0 47.3,11.0C47.6,11.0 47.6,14.0 48.0,14.0C48.3,14.0 48.3,11.1 48.6,11.1C49.0,11.1 49.0,14.0 49.3,14.0C49.7,14.0 49.7,14.0 50.0,14.0C50.3,14.0 50.3,11.1 50.7,11.1C51.0,11.1 51.0,11.1 51.3,11.1C51.7,11.1 51.7,14.0 52.0,14.0C52.4,14.0 52.4,14.0 52.7,14.0C53.0,14.0 53.0,14.0 53.4,14.0C53.7,14.0 53.7,14.0 54.0,14.0C54.4,14.0 54.4,11.1 54.7,11.1C55.1,11.1 55.1,14.0 55.4,14.0C55.7,14.0 55.7,11.3 56.1,11.3C56.4,11.3 56.4,6.6 56.7,6.6C57.1,6.6 57.1,14.0 57.4,14.0C57.8,14.0 57.8,14.0 58.1,14.0C58.4,14.0 58.4,10.1 58.8,10.1C59.1,10.1 59.1,14.0 59.4,14.0C59.8,14.0 59.8,8.2 60.1,8.2C60.5,8.2 60.5,14.0 60.8,14.0" fill="none" stroke="#2a9fd6" stroke-width="1" stroke-linejoin="round"/></svg></div><div class="card " style="left:204px;top:196.6px;width:868.4px;height:308.61px"><div class="ct"><span>Total sales over time</span></div><div class="big">$12,214.64 <span style="margin-left:1px"><span class="tr up "><svg class="ar" viewBox="0 0 8 8"><path d="M2.2 1.6h4.2v4.2M6.2 1.8L1.6 6.4" fill="none" stroke="currentColor" stroke-width="1.7"/></svg>1.2K%</span></span></div><svg class="lc" width="868.4" height="309.21" viewBox="0 0 868.4 309.21"><line x1="61" x2="852" y1="67.15" y2="67.15" stroke="#eeeeee" stroke-width="1"/><line x1="61" x2="852" y1="124.9" y2="124.9" stroke="#eeeeee" stroke-width="1"/><line x1="61" x2="852" y1="182.65" y2="182.65" stroke="#eeeeee" stroke-width="1"/><line x1="61" x2="852" y1="240.4" y2="240.4" stroke="#eeeeee" stroke-width="1"/><text x="13.9" y="69.6" class="ax">$1K</text><text x="13.9" y="127.4" class="ax">$500</text><text x="13.9" y="185.1" class="ax">$0</text><text x="13.9" y="242.8" class="ax">-$500</text><path d="M60.0,182.7C64.4,182.7 64.4,182.7 68.8,182.7C73.2,182.7 73.2,182.7 77.6,182.7C82.0,182.7 82.0,182.7 86.4,182.7C90.8,182.7 90.8,182.7 95.2,182.7C99.6,182.7 99.6,182.7 104.0,182.7C108.4,182.7 108.4,182.7 112.8,182.7C117.2,182.7 117.2,182.7 121.6,182.7C126.0,182.7 126.0,182.7 130.4,182.7C134.8,182.7 134.8,182.7 139.2,182.7C143.6,182.7 143.6,182.7 148.0,182.7C152.4,182.7 152.4,182.7 156.8,182.7C161.2,182.7 161.2,182.7 165.6,182.7C170.0,182.7 170.0,182.7 174.4,182.7C178.8,182.7 178.8,182.7 183.2,182.7C187.6,182.7 187.6,182.7 192.0,182.7C196.4,182.7 196.4,182.7 200.8,182.7C205.2,182.7 205.2,182.7 209.6,182.7C214.0,182.7 214.0,182.7 218.4,182.7C222.8,182.7 222.8,182.7 227.2,182.7C231.6,182.7 231.6,182.7 236.0,182.7C240.4,182.7 240.4,182.7 244.8,182.7C249.2,182.7 249.2,182.7 253.6,182.7C258.0,182.7 258.0,182.7 262.4,182.7C266.8,182.7 266.8,182.7 271.2,182.7C275.6,182.7 275.6,182.7 280.0,182.7C284.4,182.7 284.4,182.7 288.8,182.7C293.2,182.7 293.2,182.7 297.6,182.7C302.0,182.7 302.0,182.7 306.4,182.7C310.8,182.7 310.8,182.7 315.2,182.7C319.6,182.7 319.6,182.7 324.0,182.7C328.4,182.7 328.4,182.7 332.8,182.7C337.2,182.7 337.2,182.7 341.6,182.7C346.0,182.7 346.0,182.7 350.4,182.7C354.8,182.7 354.8,182.7 359.2,182.7C363.6,182.7 363.6,182.7 368.0,182.7C372.4,182.7 372.4,182.7 376.8,182.7C381.2,182.7 381.2,182.7 385.6,182.7C390.0,182.7 390.0,182.7 394.4,182.7C398.8,182.7 398.8,182.7 403.2,182.7C407.6,182.7 407.6,182.7 412.0,182.7C416.4,182.7 416.4,182.7 420.8,182.7C425.2,182.7 425.2,182.7 429.6,182.7C434.0,182.7 434.0,182.7 438.4,182.7C442.8,182.7 442.8,182.7 447.2,182.7C451.6,182.7 451.6,182.7 456.0,182.7C460.4,182.7 460.4,182.7 464.8,182.7C469.2,182.7 469.2,182.7 473.6,182.7C478.0,182.7 478.0,182.7 482.4,182.7C486.8,182.7 486.8,178.6 491.2,178.6C495.6,178.6 495.6,180.3 500.0,180.3C504.4,180.3 504.4,182.7 508.8,182.7C513.2,182.7 513.2,175.7 517.6,175.7C522.0,175.7 522.0,182.7 526.4,182.7C530.8,182.7 530.8,182.7 535.2,182.7C539.6,182.7 539.6,182.7 544.0,182.7C548.4,182.7 548.4,182.7 552.8,182.7C557.2,182.7 557.2,182.7 561.6,182.7C566.0,182.7 566.0,182.7 570.4,182.7C574.8,182.7 574.8,182.7 579.2,182.7C583.6,182.7 583.6,182.7 588.0,182.7C592.4,182.7 592.4,182.7 596.8,182.7C601.2,182.7 601.2,182.7 605.6,182.7C610.0,182.7 610.0,182.7 614.4,182.7C618.8,182.7 618.8,182.7 623.2,182.7C627.6,182.7 627.6,182.7 632.0,182.7C636.4,182.7 636.4,182.7 640.8,182.7C645.2,182.7 645.2,182.7 649.6,182.7C654.0,182.7 654.0,182.7 658.4,182.7C662.8,182.7 662.8,182.7 667.2,182.7C671.6,182.7 671.6,182.7 676.0,182.7C680.4,182.7 680.4,182.7 684.8,182.7C689.2,182.7 689.2,182.7 693.6,182.7C698.0,182.7 698.0,182.7 702.4,182.7C706.8,182.7 706.8,182.7 711.2,182.7C715.6,182.7 715.6,182.7 720.0,182.7C724.4,182.7 724.4,182.7 728.8,182.7C733.2,182.7 733.2,182.7 737.6,182.7C742.0,182.7 742.0,182.7 746.4,182.7C750.8,182.7 750.8,182.7 755.2,182.7C759.6,182.7 759.6,182.7 764.0,182.7C768.4,182.7 768.4,182.7 772.8,182.7C777.2,182.7 777.2,182.7 781.6,182.7C786.0,182.7 786.0,182.7 790.4,182.7C794.8,182.7 794.8,182.7 799.2,182.7C803.6,182.7 803.6,182.7 808.0,182.7C812.4,182.7 812.4,182.7 816.8,182.7C821.2,182.7 821.2,182.7 825.6,182.7C830.0,182.7 830.0,143.0 834.4,143.0C838.8,143.0 838.8,153.8 843.2,153.8C847.6,153.8 847.6,182.7 852.0,182.7" fill="none" stroke="#abc5d2" stroke-width="1.1" stroke-dasharray="3 3.3"/><path d="M60.0,141.0C64.4,141.0 64.4,182.7 68.8,182.7C73.2,182.7 73.2,150.9 77.6,150.9C82.0,150.9 82.0,173.9 86.4,173.9C90.8,173.9 90.8,165.2 95.2,165.2C99.6,165.2 99.6,167.6 104.0,167.6C108.4,167.6 108.4,182.7 112.8,182.7C117.2,182.7 117.2,182.7 121.6,182.7C126.0,182.7 126.0,167.6 130.4,167.6C134.8,167.6 134.8,150.4 139.2,150.4C143.6,150.4 143.6,165.9 148.0,165.9C152.4,165.9 152.4,158.4 156.8,158.4C161.2,158.4 161.2,172.1 165.6,172.1C170.0,172.1 170.0,182.7 174.4,182.7C178.8,182.7 178.8,182.7 183.2,182.7C187.6,182.7 187.6,182.7 192.0,182.7C196.4,182.7 196.4,163.9 200.8,163.9C205.2,163.9 205.2,182.7 209.6,182.7C214.0,182.7 214.0,132.9 218.4,132.9C222.8,132.9 222.8,182.7 227.2,182.7C231.6,182.7 231.6,89.9 236.0,89.9C240.4,89.9 240.4,144.2 244.8,144.2C249.2,144.2 249.2,150.2 253.6,150.2C258.0,150.2 258.0,84.7 262.4,84.7C266.8,84.7 266.8,138.4 271.2,138.4C275.6,138.4 275.6,175.4 280.0,175.4C284.4,175.4 284.4,182.7 288.8,182.7C293.2,182.7 293.2,182.7 297.6,182.7C302.0,182.7 302.0,149.6 306.4,149.6C310.8,149.6 310.8,174.7 315.2,174.7C319.6,174.7 319.6,164.2 324.0,164.2C328.4,164.2 328.4,182.7 332.8,182.7C337.2,182.7 337.2,167.6 341.6,167.6C346.0,167.6 346.0,121.7 350.4,121.7C354.8,121.7 354.8,158.9 359.2,158.9C363.6,158.9 363.6,157.1 368.0,157.1C372.4,157.1 372.4,152.9 376.8,152.9C381.2,152.9 381.2,145.9 385.6,145.9C390.0,145.9 390.0,182.7 394.4,182.7C398.8,182.7 398.8,178.4 403.2,178.4C407.6,178.4 407.6,165.4 412.0,165.4C416.4,165.4 416.4,182.7 420.8,182.7C425.2,182.7 425.2,147.2 429.6,147.2C434.0,147.2 434.0,182.7 438.4,182.7C442.8,182.7 442.8,182.7 447.2,182.7C451.6,182.7 451.6,182.7 456.0,182.7C460.4,182.7 460.4,176.0 464.8,176.0C469.2,176.0 469.2,178.4 473.6,178.4C478.0,178.4 478.0,161.2 482.4,161.2C486.8,161.2 486.8,182.7 491.2,182.7C495.6,182.7 495.6,175.1 500.0,175.1C504.4,175.1 504.4,182.7 508.8,182.7C513.2,182.7 513.2,182.7 517.6,182.7C522.0,182.7 522.0,152.6 526.4,152.6C530.8,152.6 530.8,182.7 535.2,182.7C539.6,182.7 539.6,174.7 544.0,174.7C548.4,174.7 548.4,147.2 552.8,147.2C557.2,147.2 557.2,138.4 561.6,138.4C566.0,138.4 566.0,182.7 570.4,182.7C574.8,182.7 574.8,163.4 579.2,163.4C583.6,163.4 583.6,182.7 588.0,182.7C592.4,182.7 592.4,182.7 596.8,182.7C601.2,182.7 601.2,177.9 605.6,177.9C610.0,177.9 610.0,138.4 614.4,138.4C618.8,138.4 618.8,182.7 623.2,182.7C627.6,182.7 627.6,142.1 632.0,142.1C636.4,142.1 636.4,159.2 640.8,159.2C645.2,159.2 645.2,182.7 649.6,182.7C654.0,182.7 654.0,158.9 658.4,158.9C662.8,158.9 662.8,165.9 667.2,165.9C671.6,165.9 671.6,177.7 676.0,177.7C680.4,177.7 680.4,182.7 684.8,182.7C689.2,182.7 689.2,158.9 693.6,158.9C698.0,158.9 698.0,182.7 702.4,182.7C706.8,182.7 706.8,170.3 711.2,170.3C715.6,170.3 715.6,176.2 720.0,176.2C724.4,176.2 724.4,148.5 728.8,148.5C733.2,148.5 733.2,182.7 737.6,182.7C742.0,182.7 742.0,182.7 746.4,182.7C750.8,182.7 750.8,182.7 755.2,182.7C759.6,182.7 759.6,182.7 764.0,182.7C768.4,182.7 768.4,176.5 772.8,176.5C777.2,176.5 777.2,182.7 781.6,182.7C786.0,182.7 786.0,165.6 790.4,165.6C794.8,165.6 794.8,134.5 799.2,134.5C803.6,134.5 803.6,182.7 808.0,182.7C812.4,182.7 812.4,182.7 816.8,182.7C821.2,182.7 821.2,186.9 825.6,186.9C830.0,186.9 830.0,182.9 834.4,182.9C838.8,182.9 838.8,150.4 843.2,150.4" fill="none" stroke="#3d9fc6" stroke-width="1.35" stroke-linejoin="round" stroke-linecap="round"/><path d="M843.2,150.4C847.6,150.4 847.6,182.7 852.0,182.7" fill="none" stroke="#3d9fc6" stroke-width="1.55" stroke-dasharray="0.1 3.3" stroke-linecap="round"/><text x="60" y="260" class="ax" text-anchor="middle">9 Nov 2025</text><text x="130.4" y="260" class="ax" text-anchor="middle">17 Nov 2025</text><text x="200.8" y="260" class="ax" text-anchor="middle">25 Nov 2025</text><text x="271.2" y="260" class="ax" text-anchor="middle">3 Dec 2025</text><text x="341.6" y="260" class="ax" text-anchor="middle">11 Dec 2025</text><text x="412" y="260" class="ax" text-anchor="middle">19 Dec 2025</text><text x="482.4" y="260" class="ax" text-anchor="middle">27 Dec 2025</text><text x="552.8" y="260" class="ax" text-anchor="middle">4 Jan 2026</text><text x="623.2" y="260" class="ax" text-anchor="middle">12 Jan 2026</text><text x="693.6" y="260" class="ax" text-anchor="middle">20 Jan 2026</text><text x="764" y="260" class="ax" text-anchor="middle">28 Jan 2026</text><text x="834.4" y="260" class="ax" text-anchor="middle">5 Feb 2026</text><circle cx="323.8" cy="287" r="2.6" fill="#0f9fdc"/><text x="334" y="290.1" class="ax">9 Nov 2025–7 Feb 2026</text><circle cx="452" cy="287" r="2.6" fill="#93cbe8"/><text x="461.8" y="290.1" class="ax">10 Aug–8 Nov 2025</text></svg></div><div class="card " style="left:1085.2px;top:196.6px;width:427.8px;height:308.61px"><div class="ct"><span>Total sales breakdown</span></div><div class="abs" style="left:13.3px;top:35.8px;width:403.7px;height:32.2px;border-radius:6px;"></div><div class="abs" style="left:17.8px;top:46.5px;line-height:12px;color:#2c5fc4;letter-spacing:.3px;white-space:nowrap">Gross sales</div><div class="abs" style="right:17.4px;top:46.3px;line-height:12px;white-space:nowrap"><b style="letter-spacing:.3px;margin-right:6px">$12,790.00</b><span class="tr up "><svg class="ar" viewBox="0 0 8 8"><path d="M2.2 1.6h4.2v4.2M6.2 1.8L1.6 6.4" fill="none" stroke="currentColor" stroke-width="1.7"/></svg>1.3K%</span></div><div class="abs" style="left:13.3px;top:68.5px;width:403.7px;height:32.2px;border-radius:6px;background:#f7f7f7;"></div><div class="abs" style="left:17.8px;top:79.2px;line-height:12px;color:#2c5fc4;letter-spacing:.3px;white-space:nowrap">Discounts</div><div class="abs" style="right:17.4px;top:79px;line-height:12px;white-space:nowrap"><b style="letter-spacing:.3px;margin-right:6px">-$1,279.00</b><span class="tr dn "><svg class="ar" viewBox="0 0 8 8"><path d="M2.2 6.4h4.2V2.2M6.2 6.2L1.6 1.6" fill="none" stroke="currentColor" stroke-width="1.7"/></svg>1.3K%</span></div><div class="abs" style="left:13.3px;top:101.2px;width:403.7px;height:32.2px;border-radius:6px;"></div><div class="abs" style="left:17.8px;top:111.9px;line-height:12px;color:#2c5fc4;letter-spacing:.3px;white-space:nowrap">Returns</div><div class="abs" style="right:54.4px;top:111.7px;line-height:12px;font-weight:bold;white-space:nowrap;letter-spacing:.3px">-$105.63</div><div class="abs" style="left:391.4px;top:117.1px;width:9px;height:1px;background:#8a8a8a"></div><div class="abs" style="left:13.3px;top:133.9px;width:403.7px;height:32.2px;border-radius:6px;background:#f7f7f7;"></div><div class="abs" style="left:17.8px;top:144.6px;line-height:12px;color:#2c5fc4;letter-spacing:.3px;white-space:nowrap">Net sales</div><div class="abs" style="right:17.4px;top:144.4px;line-height:12px;white-space:nowrap"><b style="letter-spacing:.3px;margin-right:6px">$11,405.37</b><span class="tr up "><svg class="ar" viewBox="0 0 8 8"><path d="M2.2 1.6h4.2v4.2M6.2 1.8L1.6 6.4" fill="none" stroke="currentColor" stroke-width="1.7"/></svg>1.2K%</span></div><div class="abs" style="left:13.3px;top:166.6px;width:403.7px;height:32.2px;border-radius:6px;"></div><div class="abs" style="left:17.8px;top:177.3px;line-height:12px;color:#2c5fc4;letter-spacing:.3px;white-space:nowrap">Shipping charges</div><div class="abs" style="right:17.4px;top:177.1px;line-height:12px;white-space:nowrap"><b style="letter-spacing:.3px;margin-right:6px">$800.00</b><span class="tr up "><svg class="ar" viewBox="0 0 8 8"><path d="M2.2 1.6h4.2v4.2M6.2 1.8L1.6 6.4" fill="none" stroke="currentColor" stroke-width="1.7"/></svg>821%</span></div><div class="abs" style="left:13.3px;top:199.3px;width:403.7px;height:32.2px;border-radius:6px;background:#f7f7f7;"></div><div class="abs" style="left:17.8px;top:210px;line-height:12px;color:#2c5fc4;letter-spacing:.3px;white-space:nowrap">Return fees</div><div class="abs" style="right:54.4px;top:209.8px;line-height:12px;font-weight:bold;white-space:nowrap;letter-spacing:.3px">$0.00</div><div class="abs" style="left:391.4px;top:215.2px;width:9px;height:1px;background:#8a8a8a"></div><div class="abs" style="left:13.3px;top:232px;width:403.7px;height:32.2px;border-radius:6px;"></div><div class="abs" style="left:17.8px;top:242.7px;line-height:12px;color:#2c5fc4;letter-spacing:.3px;white-space:nowrap">Taxes</div><div class="abs" style="right:54.4px;top:242.5px;line-height:12px;font-weight:bold;white-space:nowrap;letter-spacing:.3px">$9.27</div><div class="abs" style="left:391.4px;top:247.9px;width:9px;height:1px;background:#8a8a8a"></div><div class="abs" style="left:13.3px;top:264.7px;width:403.7px;height:32.2px;border-radius:6px;background:#f7f7f7;"></div><div class="abs" style="left:17.8px;top:275.4px;line-height:12px;color:#2c5fc4;letter-spacing:.3px;white-space:nowrap">Total sales</div><div class="abs" style="right:17.4px;top:275.2px;line-height:12px;white-space:nowrap"><b style="letter-spacing:.3px;margin-right:6px">$12,214.64</b><span class="tr up "><svg class="ar" viewBox="0 0 8 8"><path d="M2.2 1.6h4.2v4.2M6.2 1.8L1.6 6.4" fill="none" stroke="currentColor" stroke-width="1.7"/></svg>1.2K%</span></div></div><div class="card " style="left:204px;top:518.53px;width:427.8px;height:201.3px"><div class="ct"><span>Total sales by sales channel</span></div><svg class="lc" width="427.8" height="201.9"><path d="M124.03,41.89 A70.00,70.00 0 1 1 117.80,42.01 L118.73,56.68 A55.30,55.30 0 1 0 123.65,56.59 Z" fill="#13abee"/><path d="M119.51,41.92 A70.00,70.00 0 0 1 122.32,41.87 L122.30,56.57 A55.30,55.30 0 0 0 120.08,56.61 Z" fill="#683fe8"/></svg><div class="abs" style="left:72.2px;top:93.07px;width:100px;text-align:center;font-weight:bold;font-size:17.3px;line-height:20px;color:#1f1f1f">$12.2K</div><div class="abs" style="left:72.2px;top:118.97px;width:100px;text-align:center;line-height:10px"><span class="tr up "><svg class="ar" viewBox="0 0 8 8"><path d="M2.2 1.6h4.2v4.2M6.2 1.8L1.6 6.4" fill="none" stroke="currentColor" stroke-width="1.7"/></svg>1.2K%</span></div><div class="abs" style="left:216.5px;top:95.97px;width:9px;height:9px;border-radius:1.5px;background:#13abee"></div><div class="abs" style="left:228.5px;top:95.67px;line-height:12px;color:#616161;letter-spacing:.3px;white-space:nowrap">Online Store</div><div class="abs" style="right:84.2px;top:95.67px;line-height:12px;color:#616161;letter-spacing:.2px;white-space:nowrap">$12.1K</div><div class="abs" style="left:347.5px;top:95.87px;line-height:12px"><span class="tr up xs"><svg class="ar" viewBox="0 0 8 8"><path d="M2.2 1.6h4.2v4.2M6.2 1.8L1.6 6.4" fill="none" stroke="currentColor" stroke-width="1.7"/></svg>1.2K%</span></div><div class="abs" style="left:216.5px;top:118.37px;width:9px;height:9px;border-radius:1.5px;background:#683fe8"></div><div class="abs" style="left:228.5px;top:118.07px;line-height:12px;color:#616161;letter-spacing:.3px;white-space:nowrap">Shop</div><div class="abs" style="right:84.2px;top:118.07px;line-height:12px;color:#616161;letter-spacing:.2px;white-space:nowrap">$58.64</div><div class="abs" style="left:347.5px;top:122.37px;width:9px;height:1px;background:#8a8a8a"></div></div><div class="card " style="left:644.6px;top:518.53px;width:427.8px;height:201.3px"><div class="ct"><span>Average order value over time</span></div><div class="big">$137.03 <span style="margin-left:1px"><span class="tr up "><svg class="ar" viewBox="0 0 8 8"><path d="M2.2 1.6h4.2v4.2M6.2 1.8L1.6 6.4" fill="none" stroke="currentColor" stroke-width="1.7"/></svg>46%</span></span></div><svg class="lc" width="427.8" height="201.9" viewBox="0 0 427.8 201.9"><line x1="56.9" x2="411.4" y1="67.22" y2="67.22" stroke="#eeeeee" stroke-width="1"/><line x1="56.9" x2="411.4" y1="100.22" y2="100.22" stroke="#eeeeee" stroke-width="1"/><line x1="56.9" x2="411.4" y1="133.22" y2="133.22" stroke="#eeeeee" stroke-width="1"/><text x="14.2" y="69.67" class="ax">$400</text><text x="14.2" y="102.67" class="ax">$200</text><text x="14.2" y="135.67" class="ax">$0</text><path d="M55.9,133.2C57.9,133.2 57.9,133.2 59.8,133.2C61.8,133.2 61.8,133.2 63.8,133.2C65.8,133.2 65.8,133.2 67.7,133.2C69.7,133.2 69.7,133.2 71.7,133.2C73.7,133.2 73.7,133.2 75.6,133.2C77.6,133.2 77.6,133.2 79.6,133.2C81.6,133.2 81.6,133.2 83.5,133.2C85.5,133.2 85.5,133.2 87.5,133.2C89.5,133.2 89.5,133.2 91.4,133.2C93.4,133.2 93.4,133.2 95.4,133.2C97.4,133.2 97.4,133.2 99.3,133.2C101.3,133.2 101.3,133.2 103.3,133.2C105.3,133.2 105.3,133.2 107.2,133.2C109.2,133.2 109.2,133.2 111.2,133.2C113.2,133.2 113.2,133.2 115.1,133.2C117.1,133.2 117.1,113.4 119.1,113.4C121.1,113.4 121.1,133.2 123.0,133.2C125.0,133.2 125.0,133.2 127.0,133.2C129.0,133.2 129.0,133.2 130.9,133.2C132.9,133.2 132.9,133.2 134.9,133.2C136.9,133.2 136.9,133.2 138.8,133.2C140.8,133.2 140.8,133.2 142.8,133.2C144.8,133.2 144.8,133.2 146.8,133.2C148.7,133.2 148.7,133.2 150.7,133.2C152.7,133.2 152.7,133.2 154.6,133.2C156.6,133.2 156.6,133.2 158.6,133.2C160.6,133.2 160.6,133.2 162.5,133.2C164.5,133.2 164.5,133.2 166.5,133.2C168.5,133.2 168.5,133.2 170.4,133.2C172.4,133.2 172.4,133.2 174.4,133.2C176.4,133.2 176.4,133.2 178.3,133.2C180.3,133.2 180.3,133.2 182.3,133.2C184.3,133.2 184.3,133.2 186.2,133.2C188.2,133.2 188.2,133.2 190.2,133.2C192.2,133.2 192.2,133.2 194.1,133.2C196.1,133.2 196.1,133.2 198.1,133.2C200.1,133.2 200.1,133.2 202.0,133.2C204.0,133.2 204.0,133.2 206.0,133.2C208.0,133.2 208.0,133.2 209.9,133.2C211.9,133.2 211.9,133.2 213.9,133.2C215.9,133.2 215.9,133.2 217.8,133.2C219.8,133.2 219.8,133.2 221.8,133.2C223.8,133.2 223.8,133.2 225.7,133.2C227.7,133.2 227.7,133.2 229.7,133.2C231.7,133.2 231.7,133.2 233.6,133.2C235.6,133.2 235.6,133.2 237.6,133.2C239.6,133.2 239.6,133.2 241.5,133.2C243.5,133.2 243.5,133.2 245.5,133.2C247.5,133.2 247.5,123.3 249.4,123.3C251.4,123.3 251.4,133.2 253.4,133.2C255.4,133.2 255.4,133.2 257.4,133.2C259.3,133.2 259.3,124.1 261.3,124.1C263.3,124.1 263.3,133.2 265.2,133.2C267.2,133.2 267.2,133.2 269.2,133.2C271.2,133.2 271.2,133.2 273.1,133.2C275.1,133.2 275.1,133.2 277.1,133.2C279.1,133.2 279.1,133.2 281.0,133.2C283.0,133.2 283.0,133.2 285.0,133.2C287.0,133.2 287.0,133.2 288.9,133.2C290.9,133.2 290.9,133.2 292.9,133.2C294.9,133.2 294.9,133.2 296.9,133.2C298.8,133.2 298.8,133.2 300.8,133.2C302.8,133.2 302.8,133.2 304.8,133.2C306.7,133.2 306.7,133.2 308.7,133.2C310.7,133.2 310.7,133.2 312.6,133.2C314.6,133.2 314.6,133.2 316.6,133.2C318.6,133.2 318.6,133.2 320.6,133.2C322.5,133.2 322.5,133.2 324.5,133.2C326.5,133.2 326.5,133.2 328.4,133.2C330.4,133.2 330.4,133.2 332.4,133.2C334.4,133.2 334.4,133.2 336.3,133.2C338.3,133.2 338.3,133.2 340.3,133.2C342.3,133.2 342.3,133.2 344.2,133.2C346.2,133.2 346.2,133.2 348.2,133.2C350.2,133.2 350.2,133.2 352.1,133.2C354.1,133.2 354.1,133.2 356.1,133.2C358.1,133.2 358.1,133.2 360.1,133.2C362.0,133.2 362.0,133.2 364.0,133.2C366.0,133.2 366.0,133.2 367.9,133.2C369.9,133.2 369.9,133.2 371.9,133.2C373.9,133.2 373.9,133.2 375.8,133.2C377.8,133.2 377.8,133.2 379.8,133.2C381.8,133.2 381.8,133.2 383.8,133.2C385.7,133.2 385.7,133.2 387.7,133.2C389.7,133.2 389.7,133.2 391.6,133.2C393.6,133.2 393.6,133.2 395.6,133.2C397.6,133.2 397.6,133.2 399.6,133.2C401.5,133.2 401.5,133.2 403.5,133.2C405.5,133.2 405.5,103.5 407.4,103.5C409.4,103.5 409.4,92.8 411.4,92.8" fill="none" stroke="#abc5d2" stroke-width="1.1" stroke-dasharray="3 3.3"/><path d="M55.9,105.3C57.9,105.3 57.9,133.2 59.8,133.2C61.8,133.2 61.8,112.3 63.8,112.3C65.8,112.3 65.8,122.5 67.7,122.5C69.7,122.5 69.7,109.5 71.7,109.5C73.7,109.5 73.7,112.3 75.6,112.3C77.6,112.3 77.6,133.2 79.6,133.2C81.6,133.2 81.6,133.2 83.5,133.2C85.5,133.2 85.5,114.1 87.5,114.1C89.5,114.1 89.5,111.9 91.4,111.9C93.4,111.9 93.4,122.5 95.4,122.5C97.4,122.5 97.4,100.4 99.3,100.4C101.3,100.4 101.3,119.4 103.3,119.4C105.3,119.4 105.3,133.2 107.2,133.2C109.2,133.2 109.2,133.2 111.2,133.2C113.2,133.2 113.2,133.2 115.1,133.2C117.1,133.2 117.1,122.0 119.1,122.0C121.1,122.0 121.1,133.2 123.0,133.2C125.0,133.2 125.0,98.9 127.0,98.9C129.0,98.9 129.0,133.2 130.9,133.2C132.9,133.2 132.9,90.5 134.9,90.5C136.9,90.5 136.9,120.4 138.8,120.4C140.8,120.4 140.8,88.5 142.8,88.5C144.8,88.5 144.8,99.1 146.8,99.1C148.7,99.1 148.7,104.2 150.7,104.2C152.7,104.2 152.7,125.5 154.6,125.5C156.6,125.5 156.6,133.2 158.6,133.2C160.6,133.2 160.6,133.2 162.5,133.2C164.5,133.2 164.5,110.6 166.5,110.6C168.5,110.6 168.5,123.8 170.4,123.8C172.4,123.8 172.4,106.7 174.4,106.7C176.4,106.7 176.4,133.2 178.3,133.2C180.3,133.2 180.3,115.7 182.3,115.7C184.3,115.7 184.3,112.3 186.2,112.3C188.2,112.3 188.2,101.4 190.2,101.4C192.2,101.4 192.2,98.9 194.1,98.9C196.1,98.9 196.1,92.8 198.1,92.8C200.1,92.8 200.1,108.5 202.0,108.5C204.0,108.5 204.0,133.2 206.0,133.2C208.0,133.2 208.0,129.3 209.9,129.3C211.9,129.3 211.9,110.1 213.9,110.1C215.9,110.1 215.9,133.2 217.8,133.2C219.8,133.2 219.8,84.1 221.8,84.1C223.8,84.1 223.8,133.2 225.7,133.2C227.7,133.2 227.7,133.2 229.7,133.2C231.7,133.2 231.7,133.2 233.6,133.2C235.6,133.2 235.6,126.1 237.6,126.1C239.6,126.1 239.6,127.9 241.5,127.9C243.5,127.9 243.5,104.7 245.5,104.7C247.5,104.7 247.5,133.2 249.4,133.2C251.4,133.2 251.4,129.3 253.4,129.3C255.4,129.3 255.4,133.2 257.4,133.2C259.3,133.2 259.3,133.2 261.3,133.2C263.3,133.2 263.3,91.6 265.2,91.6C267.2,91.6 267.2,133.2 269.2,133.2C271.2,133.2 271.2,123.0 273.1,123.0C275.1,123.0 275.1,84.1 277.1,84.1C279.1,84.1 279.1,112.3 281.0,112.3C283.0,112.3 283.0,133.2 285.0,133.2C287.0,133.2 287.0,121.0 288.9,121.0C290.9,121.0 290.9,133.2 292.9,133.2C294.9,133.2 294.9,133.2 296.9,133.2C298.8,133.2 298.8,126.6 300.8,126.6C302.8,126.6 302.8,114.1 304.8,114.1C306.7,114.1 306.7,133.2 308.7,133.2C310.7,133.2 310.7,106.0 312.6,106.0C314.6,106.0 314.6,101.9 316.6,101.9C318.6,101.9 318.6,133.2 320.6,133.2C322.5,133.2 322.5,100.6 324.5,100.6C326.5,100.6 326.5,109.8 328.4,109.8C330.4,109.8 330.4,126.6 332.4,126.6C334.4,126.6 334.4,133.2 336.3,133.2C338.3,133.2 338.3,100.6 340.3,100.6C342.3,100.6 342.3,133.2 344.2,133.2C346.2,133.2 346.2,118.5 348.2,118.5C350.2,118.5 350.2,125.5 352.1,125.5C354.1,125.5 354.1,85.9 356.1,85.9C358.1,85.9 358.1,133.2 360.1,133.2C362.0,133.2 362.0,133.2 364.0,133.2C366.0,133.2 366.0,133.2 367.9,133.2C369.9,133.2 369.9,133.2 371.9,133.2C373.9,133.2 373.9,125.8 375.8,125.8C377.8,125.8 377.8,133.2 379.8,133.2C381.8,133.2 381.8,111.6 383.8,111.6C385.7,111.6 385.7,100.6 387.7,100.6C389.7,100.6 389.7,133.2 391.6,133.2C393.6,133.2 393.6,133.2 395.6,133.2C397.6,133.2 397.6,123.8 399.6,123.8C401.5,123.8 401.5,133.2 403.5,133.2C405.5,133.2 405.5,111.6 407.4,111.6" fill="none" stroke="#3d9fc6" stroke-width="1.3" stroke-linejoin="round" stroke-linecap="round"/><path d="M407.4,111.6C409.4,111.6 409.4,133.2 411.4,133.2" fill="none" stroke="#3d9fc6" stroke-width="1.5" stroke-dasharray="0.1 3.3" stroke-linecap="round"/><text x="55.9" y="152.77" class="ax" text-anchor="middle">9 Nov 2025</text><text x="130.95" y="152.77" class="ax" text-anchor="middle">28 Nov 2025</text><text x="206" y="152.77" class="ax" text-anchor="middle">17 Dec 2025</text><text x="281.05" y="152.77" class="ax" text-anchor="middle">5 Jan 2026</text><text x="356.1" y="152.77" class="ax" text-anchor="middle">24 Jan 2026</text><circle cx="103.7" cy="179.47" r="2.6" fill="#0f9fdc"/><text x="113.7" y="182.57" class="ax">9 Nov 2025–7 Feb 2026</text><circle cx="231.7" cy="179.47" r="2.6" fill="#93cbe8"/><text x="241.4" y="182.57" class="ax">10 Aug–8 Nov 2025</text></svg></div><div class="card " style="left:1085.2px;top:518.53px;width:427.8px;height:201.3px"><div class="ct"><span>Total sales by product</span></div><div class="abs" style="left:12.4px;top:30px;width:398.5px;height:159.67px;overflow:hidden"><div class="hl" style="left:0px;top:8.17px">Filter White Extra Whitening and polishing body skincare set. · J beauty space USA · Skincare set</div><div class="hb b1" style="left:0px;top:20.77px;width:320.69px;height:7.5px"></div><div class="hv" style="left:329.29px;top:21.47px;height:7.5px;line-height:7.5px">$1.5K <span class="tr no sm2"><i class="dash"></i></span></div><div class="hb b2" style="left:0px;top:30.67px;width:1px;height:7.5px"></div><div class="hv" style="left:9.6px;top:31.37px;height:7.5px;line-height:7.5px">$0</div><div class="hl" style="left:0px;top:54.37px">Collagen extra fort whitening body set · J beauty space USA · None</div><div class="hb b1" style="left:0px;top:66.97px;width:167.42px;height:7.5px"></div><div class="hv" style="left:176.02px;top:67.67px;height:7.5px;line-height:7.5px">$828 <span class="tr no sm2"><i class="dash"></i></span></div><div class="hb b2" style="left:0px;top:76.87px;width:1px;height:7.5px"></div><div class="hv" style="left:9.6px;top:77.57px;height:7.5px;line-height:7.5px">$0</div><div class="hl" style="left:0px;top:100.57px">5D Strong whitening and polishing vitess 8 up to 5 to 6 shade Body soap for strong skin. · J be...</div><div class="hb b1" style="left:0px;top:113.17px;width:123.75px;height:7.5px"></div><div class="hv" style="left:132.35px;top:113.87px;height:7.5px;line-height:7.5px">$612 <span class="tr up sm2"><svg class="ar" viewBox="0 0 8 8"><path d="M2.2 1.6h4.2v4.2M6.2 1.8L1.6 6.4" fill="none" stroke="currentColor" stroke-width="1.7"/></svg>871%</span></div><div class="hb b2" style="left:0px;top:123.07px;width:12.74px;height:7.5px"></div><div class="hv" style="left:21.34px;top:123.77px;height:7.5px;line-height:7.5px">$63</div><div class="hl" style="left:0px;top:146.77px">Urgence, Fast results action very whitening and brightening Body set for events, wedding, anni...</div><div class="hb b1" style="left:0px;top:159.37px;width:113.23px;height:7.5px"></div><div class="hv" style="left:121.83px;top:160.07px;height:7.5px;line-height:7.5px">$560 <span class="tr no sm2"><i class="dash"></i></span></div><div class="hb b2" style="left:0px;top:169.27px;width:1px;height:7.5px"></div><div class="hv" style="left:9.6px;top:169.97px;height:7.5px;line-height:7.5px">$0</div></div><div class="abs" style="left:409.3px;top:44.87px;width:4.2px;height:94px;border-radius:2px;background:#b5b5b5"></div><div class="abs sa" style="left:408.4px;top:36.47px;border-bottom:4px solid #b5b5b5"></div><div class="abs sa" style="left:408.4px;top:182.97px;border-top:4px solid #b5b5b5"></div></div><div class="card " style="left:204px;top:733.15px;width:427.8px;height:272.84px"><div class="ct"><span>Sessions over time</span></div><div class="big">1,547 <span style="margin-left:1px"><span class="tr up "><svg class="ar" viewBox="0 0 8 8"><path d="M2.2 1.6h4.2v4.2M6.2 1.8L1.6 6.4" fill="none" stroke="currentColor" stroke-width="1.7"/></svg>46%</span></span></div><svg class="lc" width="427.8" height="273.44" viewBox="0 0 427.8 273.44"><line x1="44" x2="411.5" y1="67.25" y2="67.25" stroke="#eeeeee" stroke-width="1"/><line x1="44" x2="411.5" y1="112.95" y2="112.95" stroke="#eeeeee" stroke-width="1"/><line x1="44" x2="411.5" y1="158.65" y2="158.65" stroke="#eeeeee" stroke-width="1"/><line x1="44" x2="411.5" y1="204.35" y2="204.35" stroke="#eeeeee" stroke-width="1"/><text x="13.9" y="69.55" class="ax">60</text><text x="13.9" y="115.25" class="ax">40</text><text x="13.9" y="160.85" class="ax">20</text><text x="13.9" y="206.75" class="ax">0</text><path d="M43.0,188.4C45.0,188.4 45.0,190.6 47.1,190.6C49.1,190.6 49.1,188.4 51.2,188.4C53.2,188.4 53.2,174.6 55.3,174.6C57.3,174.6 57.3,192.9 59.4,192.9C61.4,192.9 61.4,179.2 63.5,179.2C65.5,179.2 65.5,181.5 67.6,181.5C69.6,181.5 69.6,196.4 71.7,196.4C73.7,196.4 73.7,195.2 75.8,195.2C77.8,195.2 77.8,188.4 79.8,188.4C81.9,188.4 81.9,143.8 83.9,143.8C86.0,143.8 86.0,143.8 88.0,143.8C90.1,143.8 90.1,144.9 92.1,144.9C94.2,144.9 94.2,145.9 96.2,145.9C98.3,145.9 98.3,150.2 100.3,150.2C102.4,150.2 102.4,188.4 104.4,188.4C106.5,188.4 106.5,102.7 108.5,102.7C110.6,102.7 110.6,151.8 112.6,151.8C114.7,151.8 114.7,163.2 116.7,163.2C118.7,163.2 118.7,150.2 120.8,150.2C122.8,150.2 122.8,188.4 124.9,188.4C126.9,188.4 126.9,200.9 129.0,200.9C131.0,200.9 131.0,190.6 133.1,190.6C135.1,190.6 135.1,167.8 137.2,167.8C139.2,167.8 139.2,179.2 141.3,179.2C143.3,179.2 143.3,149.5 145.4,149.5C147.4,149.5 147.4,103.8 149.5,103.8C151.5,103.8 151.5,170.1 153.6,170.1C155.6,170.1 155.6,179.2 157.6,179.2C159.7,179.2 159.7,183.8 161.7,183.8C163.8,183.8 163.8,186.1 165.8,186.1C167.9,186.1 167.9,147.2 169.9,147.2C172.0,147.2 172.0,184.9 174.0,184.9C176.1,184.9 176.1,190.6 178.1,190.6C180.2,190.6 180.2,190.6 182.2,190.6C184.3,190.6 184.3,183.8 186.3,183.8C188.4,183.8 188.4,170.1 190.4,170.1C192.4,170.1 192.4,183.8 194.5,183.8C196.5,183.8 196.5,187.2 198.6,187.2C200.6,187.2 200.6,192.9 202.7,192.9C204.7,192.9 204.7,184.9 206.8,184.9C208.8,184.9 208.8,188.4 210.9,188.4C212.9,188.4 212.9,196.4 215.0,196.4C217.0,196.4 217.0,183.8 219.1,183.8C221.1,183.8 221.1,179.2 223.2,179.2C225.2,179.2 225.2,188.4 227.2,188.4C229.3,188.4 229.3,180.1 231.3,180.1C233.4,180.1 233.4,128.9 235.4,128.9C237.5,128.9 237.5,156.4 239.5,156.4C241.6,156.4 241.6,186.1 243.6,186.1C245.7,186.1 245.7,152.5 247.7,152.5C249.8,152.5 249.8,179.2 251.8,179.2C253.9,179.2 253.9,182.0 255.9,182.0C258.0,182.0 258.0,189.3 260.0,189.3C262.1,189.3 262.1,195.9 264.1,195.9C266.1,195.9 266.1,187.2 268.2,187.2C270.2,187.2 270.2,199.8 272.3,199.8C274.3,199.8 274.3,189.3 276.4,189.3C278.4,189.3 278.4,181.5 280.5,181.5C282.5,181.5 282.5,177.4 284.6,177.4C286.6,177.4 286.6,174.6 288.7,174.6C290.7,174.6 290.7,193.2 292.8,193.2C294.8,193.2 294.8,197.7 296.9,197.7C298.9,197.7 298.9,195.9 300.9,195.9C303.0,195.9 303.0,183.8 305.0,183.8C307.1,183.8 307.1,176.0 309.1,176.0C311.2,176.0 311.2,190.6 313.2,190.6C315.3,190.6 315.3,178.1 317.3,178.1C319.4,178.1 319.4,193.2 321.4,193.2C323.5,193.2 323.5,197.7 325.5,197.7C327.6,197.7 327.6,191.8 329.6,191.8C331.7,191.8 331.7,176.0 333.7,176.0C335.8,176.0 335.8,186.5 337.8,186.5C339.8,186.5 339.8,180.1 341.9,180.1C343.9,180.1 343.9,191.3 346.0,191.3C348.0,191.3 348.0,193.2 350.1,193.2C352.1,193.2 352.1,197.0 354.2,197.0C356.2,197.0 356.2,194.5 358.3,194.5C360.3,194.5 360.3,198.4 362.4,198.4C364.4,198.4 364.4,185.4 366.5,185.4C368.5,185.4 368.5,185.4 370.6,185.4C372.6,185.4 372.6,183.8 374.6,183.8C376.7,183.8 376.7,176.0 378.7,176.0C380.8,176.0 380.8,202.3 382.8,202.3C384.9,202.3 384.9,197.0 386.9,197.0C389.0,197.0 389.0,187.9 391.0,187.9C393.1,187.9 393.1,185.4 395.1,185.4C397.2,185.4 397.2,185.4 399.2,185.4C401.3,185.4 401.3,130.1 403.3,130.1C405.4,130.1 405.4,145.9 407.4,145.9C409.5,145.9 409.5,201.2 411.5,201.2" fill="none" stroke="#abc5d2" stroke-width="1.1" stroke-dasharray="3 3.3"/><path d="M43.0,133.5C45.0,133.5 45.0,179.2 47.1,179.2C49.1,179.2 49.1,181.5 51.2,181.5C53.2,181.5 53.2,158.7 55.3,158.7C57.3,158.7 57.3,163.2 59.4,163.2C61.4,163.2 61.4,140.4 63.5,140.4C65.5,140.4 65.5,157.3 67.6,157.3C69.6,157.3 69.6,197.5 71.7,197.5C73.7,197.5 73.7,154.1 75.8,154.1C77.8,154.1 77.8,156.4 79.8,156.4C81.9,156.4 81.9,142.7 83.9,142.7C86.0,142.7 86.0,142.7 88.0,142.7C90.1,142.7 90.1,163.2 92.1,163.2C94.2,163.2 94.2,174.6 96.2,174.6C98.3,174.6 98.3,183.8 100.3,183.8C102.4,183.8 102.4,167.8 104.4,167.8C106.5,167.8 106.5,149.5 108.5,149.5C110.6,149.5 110.6,179.2 112.6,179.2C114.7,179.2 114.7,158.7 116.7,158.7C118.7,158.7 118.7,151.8 120.8,151.8C122.8,151.8 122.8,140.4 124.9,140.4C126.9,140.4 126.9,156.4 129.0,156.4C131.0,156.4 131.0,117.5 133.1,117.5C135.1,117.5 135.1,147.2 137.2,147.2C139.2,147.2 139.2,173.3 141.3,173.3C143.3,173.3 143.3,176.9 145.4,176.9C147.4,176.9 147.4,176.9 149.5,176.9C151.5,176.9 151.5,170.1 153.6,170.1C155.6,170.1 155.6,164.4 157.6,164.4C159.7,164.4 159.7,158.7 161.7,158.7C163.8,158.7 163.8,158.7 165.8,158.7C167.9,158.7 167.9,183.8 169.9,183.8C172.0,183.8 172.0,149.5 174.0,149.5C176.1,149.5 176.1,140.4 178.1,140.4C180.2,140.4 180.2,163.2 182.2,163.2C184.3,163.2 184.3,165.5 186.3,165.5C188.4,165.5 188.4,167.8 190.4,167.8C192.4,167.8 192.4,133.5 194.5,133.5C196.5,133.5 196.5,167.8 198.6,167.8C200.6,167.8 200.6,174.6 202.7,174.6C204.7,174.6 204.7,181.5 206.8,181.5C208.8,181.5 208.8,183.8 210.9,183.8C212.9,183.8 212.9,179.2 215.0,179.2C217.0,179.2 217.0,126.7 219.1,126.7C221.1,126.7 221.1,174.6 223.2,174.6C225.2,174.6 225.2,188.4 227.2,188.4C229.3,188.4 229.3,166.2 231.3,166.2C233.4,166.2 233.4,166.2 235.4,166.2C237.5,166.2 237.5,177.4 239.5,177.4C241.6,177.4 241.6,181.5 243.6,181.5C245.7,181.5 245.7,177.4 247.7,177.4C249.8,177.4 249.8,190.6 251.8,190.6C253.9,190.6 253.9,192.9 255.9,192.9C258.0,192.9 258.0,184.7 260.0,184.7C262.1,184.7 262.1,186.1 264.1,186.1C266.1,186.1 266.1,166.2 268.2,166.2C270.2,166.2 270.2,181.5 272.3,181.5C274.3,181.5 274.3,115.2 276.4,115.2C278.4,115.2 278.4,115.2 280.5,115.2C282.5,115.2 282.5,170.1 284.6,170.1C286.6,170.1 286.6,143.3 288.7,143.3C290.7,143.3 290.7,173.5 292.8,173.5C294.8,173.5 294.8,182.0 296.9,182.0C298.9,182.0 298.9,131.2 300.9,131.2C303.0,131.2 303.0,182.0 305.0,182.0C307.1,182.0 307.1,163.7 309.1,163.7C311.2,163.7 311.2,145.9 313.2,145.9C315.3,145.9 315.3,129.2 317.3,129.2C319.4,129.2 319.4,170.8 321.4,170.8C323.5,170.8 323.5,183.8 325.5,183.8C327.6,183.8 327.6,177.4 329.6,177.4C331.7,177.4 331.7,177.4 333.7,177.4C335.8,177.4 335.8,181.5 337.8,181.5C339.8,181.5 339.8,161.6 341.9,161.6C343.9,161.6 343.9,192.9 346.0,192.9C348.0,192.9 348.0,159.1 350.1,159.1C352.1,159.1 352.1,177.4 354.2,177.4C356.2,177.4 356.2,177.4 358.3,177.4C360.3,177.4 360.3,183.8 362.4,183.8C364.4,183.8 364.4,183.8 366.5,183.8C368.5,183.8 368.5,183.8 370.6,183.8C372.6,183.8 372.6,161.6 374.6,161.6C376.7,161.6 376.7,164.4 378.7,164.4C380.8,164.4 380.8,195.9 382.8,195.9C384.9,195.9 384.9,140.6 386.9,140.6C389.0,140.6 389.0,191.3 391.0,191.3C393.1,191.3 393.1,188.6 395.1,188.6C397.2,188.6 397.2,99.5 399.2,99.5C401.3,99.5 401.3,178.8 403.3,178.8C405.4,178.8 405.4,163.7 407.4,163.7" fill="none" stroke="#3d9fc6" stroke-width="1.3" stroke-linejoin="round" stroke-linecap="round"/><path d="M407.4,163.7C409.5,163.7 409.5,204.4 411.5,204.4" fill="none" stroke="#3d9fc6" stroke-width="1.5" stroke-dasharray="0.1 3.3" stroke-linecap="round"/><text x="43" y="224.85" class="ax" text-anchor="middle">9 Nov 2025</text><text x="120.79" y="224.85" class="ax" text-anchor="middle">28 Nov 2025</text><text x="198.59" y="224.85" class="ax" text-anchor="middle">17 Dec 2025</text><text x="276.38" y="224.85" class="ax" text-anchor="middle">5 Jan 2026</text><text x="354.18" y="224.85" class="ax" text-anchor="middle">24 Jan 2026</text><circle cx="103.2" cy="251.35" r="2.6" fill="#0f9fdc"/><text x="113" y="254.45" class="ax">9 Nov 2025–7 Feb 2026</text><circle cx="231.3" cy="251.35" r="2.6" fill="#93cbe8"/><text x="241" y="254.45" class="ax">10 Aug–8 Nov 2025</text></svg></div><div class="card " style="left:644.6px;top:733.15px;width:427.8px;height:272.84px"><div class="ct"><span>Conversion rate over time</span></div><div class="big"><span style="letter-spacing:-.3px">5.17%</span> <span style="margin-left:1px"><span class="tr up "><svg class="ar" viewBox="0 0 8 8"><path d="M2.2 1.6h4.2v4.2M6.2 1.8L1.6 6.4" fill="none" stroke="currentColor" stroke-width="1.7"/></svg>584%</span></span></div><svg class="warn" viewBox="0 0 12 12"><path d="M6 1.4L11 10.3H1z" fill="none" stroke="#8a8a8a" stroke-width="1.1" stroke-linejoin="round"/><path d="M6 4.6v2.6M6 8.4v.8" stroke="#8a8a8a" stroke-width="1.1"/></svg><svg class="lc" width="427.8" height="273.44" viewBox="0 0 427.8 273.44"><line x1="51.9" x2="411.4" y1="67.25" y2="67.25" stroke="#eeeeee" stroke-width="1"/><line x1="51.9" x2="411.4" y1="112.95" y2="112.95" stroke="#eeeeee" stroke-width="1"/><line x1="51.9" x2="411.4" y1="158.65" y2="158.65" stroke="#eeeeee" stroke-width="1"/><line x1="51.9" x2="411.4" y1="204.35" y2="204.35" stroke="#eeeeee" stroke-width="1"/><text x="14.2" y="69.55" class="ax">30%</text><text x="14.2" y="115.25" class="ax">20%</text><text x="14.2" y="160.85" class="ax">10%</text><text x="14.2" y="206.75" class="ax">0%</text><path d="M50.9,204.4C52.9,204.4 52.9,204.4 54.9,204.4C56.9,204.4 56.9,204.4 58.9,204.4C60.9,204.4 60.9,204.4 62.9,204.4C64.9,204.4 64.9,204.4 66.9,204.4C68.9,204.4 68.9,204.4 70.9,204.4C72.9,204.4 72.9,204.4 74.9,204.4C76.9,204.4 76.9,204.4 78.9,204.4C80.9,204.4 80.9,204.4 82.9,204.4C84.9,204.4 84.9,204.4 86.9,204.4C89.0,204.4 89.0,204.4 91.0,204.4C93.0,204.4 93.0,204.4 95.0,204.4C97.0,204.4 97.0,204.4 99.0,204.4C101.0,204.4 101.0,204.4 103.0,204.4C105.0,204.4 105.0,204.4 107.0,204.4C109.0,204.4 109.0,204.4 111.0,204.4C113.0,204.4 113.0,204.4 115.0,204.4C117.0,204.4 117.0,204.4 119.0,204.4C121.0,204.4 121.0,204.4 123.0,204.4C125.0,204.4 125.0,204.4 127.0,204.4C129.0,204.4 129.0,204.4 131.0,204.4C133.0,204.4 133.0,204.4 135.0,204.4C137.0,204.4 137.0,204.4 139.0,204.4C141.0,204.4 141.0,204.4 143.0,204.4C145.0,204.4 145.0,204.4 147.0,204.4C149.0,204.4 149.0,204.4 151.0,204.4C153.0,204.4 153.0,204.4 155.0,204.4C157.0,204.4 157.0,204.4 159.0,204.4C161.1,204.4 161.1,204.4 163.1,204.4C165.1,204.4 165.1,204.4 167.1,204.4C169.1,204.4 169.1,204.4 171.1,204.4C173.1,204.4 173.1,204.4 175.1,204.4C177.1,204.4 177.1,204.4 179.1,204.4C181.1,204.4 181.1,204.4 183.1,204.4C185.1,204.4 185.1,204.4 187.1,204.4C189.1,204.4 189.1,204.4 191.1,204.4C193.1,204.4 193.1,204.4 195.1,204.4C197.1,204.4 197.1,204.4 199.1,204.4C201.1,204.4 201.1,204.4 203.1,204.4C205.1,204.4 205.1,204.4 207.1,204.4C209.1,204.4 209.1,204.4 211.1,204.4C213.1,204.4 213.1,204.4 215.1,204.4C217.1,204.4 217.1,204.4 219.1,204.4C221.1,204.4 221.1,204.4 223.1,204.4C225.1,204.4 225.1,204.4 227.1,204.4C229.1,204.4 229.1,204.4 231.1,204.4C233.2,204.4 233.2,204.4 235.2,204.4C237.2,204.4 237.2,204.4 239.2,204.4C241.2,204.4 241.2,204.4 243.2,204.4C245.2,204.4 245.2,148.6 247.2,148.6C249.2,148.6 249.2,204.4 251.2,204.4C253.2,204.4 253.2,204.4 255.2,204.4C257.2,204.4 257.2,159.1 259.2,159.1C261.2,159.1 261.2,204.4 263.2,204.4C265.2,204.4 265.2,204.4 267.2,204.4C269.2,204.4 269.2,204.4 271.2,204.4C273.2,204.4 273.2,204.4 275.2,204.4C277.2,204.4 277.2,204.4 279.2,204.4C281.2,204.4 281.2,204.4 283.2,204.4C285.2,204.4 285.2,204.4 287.2,204.4C289.2,204.4 289.2,204.4 291.2,204.4C293.2,204.4 293.2,204.4 295.2,204.4C297.2,204.4 297.2,204.4 299.2,204.4C301.2,204.4 301.2,204.4 303.2,204.4C305.3,204.4 305.3,204.4 307.3,204.4C309.3,204.4 309.3,204.4 311.3,204.4C313.3,204.4 313.3,204.4 315.3,204.4C317.3,204.4 317.3,204.4 319.3,204.4C321.3,204.4 321.3,204.4 323.3,204.4C325.3,204.4 325.3,204.4 327.3,204.4C329.3,204.4 329.3,204.4 331.3,204.4C333.3,204.4 333.3,204.4 335.3,204.4C337.3,204.4 337.3,204.4 339.3,204.4C341.3,204.4 341.3,204.4 343.3,204.4C345.3,204.4 345.3,204.4 347.3,204.4C349.3,204.4 349.3,204.4 351.3,204.4C353.3,204.4 353.3,204.4 355.3,204.4C357.3,204.4 357.3,204.4 359.3,204.4C361.3,204.4 361.3,204.4 363.3,204.4C365.3,204.4 365.3,204.4 367.3,204.4C369.3,204.4 369.3,204.4 371.3,204.4C373.3,204.4 373.3,204.4 375.3,204.4C377.4,204.4 377.4,204.4 379.4,204.4C381.4,204.4 381.4,204.4 383.4,204.4C385.4,204.4 385.4,204.4 387.4,204.4C389.4,204.4 389.4,204.4 391.4,204.4C393.4,204.4 393.4,204.4 395.4,204.4C397.4,204.4 397.4,204.4 399.4,204.4C401.4,204.4 401.4,204.4 403.4,204.4C405.4,204.4 405.4,149.5 407.4,149.5C409.4,149.5 409.4,204.4 411.4,204.4" fill="none" stroke="#abc5d2" stroke-width="1.1" stroke-dasharray="3 3.3"/><path d="M50.9,175.1C52.9,175.1 52.9,204.4 54.9,204.4C56.9,204.4 56.9,113.0 58.9,113.0C60.9,113.0 60.9,181.5 62.9,181.5C64.9,181.5 64.9,179.2 66.9,179.2C68.9,179.2 68.9,188.4 70.9,188.4C72.9,188.4 72.9,204.4 74.9,204.4C76.9,204.4 76.9,204.4 78.9,204.4C80.9,204.4 80.9,183.3 82.9,183.3C84.9,183.3 84.9,160.9 86.9,160.9C89.0,160.9 89.0,171.0 91.0,171.0C93.0,171.0 93.0,187.0 95.0,187.0C97.0,187.0 97.0,179.2 99.0,179.2C101.0,179.2 101.0,204.4 103.0,204.4C105.0,204.4 105.0,204.4 107.0,204.4C109.0,204.4 109.0,204.4 111.0,204.4C113.0,204.4 113.0,166.4 115.0,166.4C117.0,166.4 117.0,204.4 119.0,204.4C121.0,204.4 121.0,159.1 123.0,159.1C125.0,159.1 125.0,204.4 127.0,204.4C129.0,204.4 129.0,156.4 131.0,156.4C133.0,156.4 133.0,139.0 135.0,139.0C137.0,139.0 137.0,192.0 139.0,192.0C141.0,192.0 141.0,131.2 143.0,131.2C145.0,131.2 145.0,138.5 147.0,138.5C149.0,138.5 149.0,166.0 151.0,166.0C153.0,166.0 153.0,204.4 155.0,204.4C157.0,204.4 157.0,204.4 159.0,204.4C161.1,204.4 161.1,151.3 163.1,151.3C165.1,151.3 165.1,181.5 167.1,181.5C169.1,181.5 169.1,182.0 171.1,182.0C173.1,182.0 173.1,204.4 175.1,204.4C177.1,204.4 177.1,186.1 179.1,186.1C181.1,186.1 181.1,156.4 183.1,156.4C185.1,156.4 185.1,178.8 187.1,178.8C189.1,178.8 189.1,177.4 191.1,177.4C193.1,177.4 193.1,176.0 195.1,176.0C197.1,176.0 197.1,175.1 199.1,175.1C201.1,175.1 201.1,204.4 203.1,204.4C205.1,204.4 205.1,170.5 207.1,170.5C209.1,170.5 209.1,159.1 211.1,159.1C213.1,159.1 213.1,204.4 215.1,204.4C217.1,204.4 217.1,163.2 219.1,163.2C221.1,163.2 221.1,204.4 223.1,204.4C225.1,204.4 225.1,204.4 227.1,204.4C229.1,204.4 229.1,204.4 231.1,204.4C233.2,204.4 233.2,204.4 235.2,204.4C237.2,204.4 237.2,177.4 239.2,177.4C241.2,177.4 241.2,166.9 243.2,166.9C245.2,166.9 245.2,204.4 247.2,204.4C249.2,204.4 249.2,128.9 251.2,128.9C253.2,128.9 253.2,204.4 255.2,204.4C257.2,204.4 257.2,204.4 259.2,204.4C261.2,204.4 261.2,154.1 263.2,154.1C265.2,154.1 265.2,204.4 267.2,204.4C269.2,204.4 269.2,177.4 271.2,177.4C273.2,177.4 273.2,159.1 275.2,159.1C277.2,159.1 277.2,168.2 279.2,168.2C281.2,168.2 281.2,204.4 283.2,204.4C285.2,204.4 285.2,144.0 287.2,144.0C289.2,144.0 289.2,204.4 291.2,204.4C293.2,204.4 293.2,204.4 295.2,204.4C297.2,204.4 297.2,159.1 299.2,159.1C301.2,159.1 301.2,161.8 303.2,161.8C305.3,161.8 305.3,204.4 307.3,204.4C309.3,204.4 309.3,154.1 311.3,154.1C313.3,154.1 313.3,185.2 315.3,185.2C317.3,185.2 317.3,204.4 319.3,204.4C321.3,204.4 321.3,173.3 323.3,173.3C325.3,173.3 325.3,154.1 327.3,154.1C329.3,154.1 329.3,165.5 331.3,165.5C333.3,165.5 333.3,204.4 335.3,204.4C337.3,204.4 337.3,159.1 339.3,159.1C341.3,159.1 341.3,204.4 343.3,204.4C345.3,204.4 345.3,204.4 347.3,204.4C349.3,204.4 349.3,181.5 351.3,181.5C353.3,181.5 353.3,166.9 355.3,166.9C357.3,166.9 357.3,204.4 359.3,204.4C361.3,204.4 361.3,204.4 363.3,204.4C365.3,204.4 365.3,204.4 367.3,204.4C369.3,204.4 369.3,204.4 371.3,204.4C373.3,204.4 373.3,180.6 375.3,180.6C377.4,180.6 377.4,204.4 379.4,204.4C381.4,204.4 381.4,90.1 383.4,90.1C385.4,90.1 385.4,169.6 387.4,169.6C389.4,169.6 389.4,204.4 391.4,204.4C393.4,204.4 393.4,204.4 395.4,204.4C397.4,204.4 397.4,195.2 399.4,195.2C401.4,195.2 401.4,204.4 403.4,204.4C405.4,204.4 405.4,154.1 407.4,154.1" fill="none" stroke="#3d9fc6" stroke-width="1.3" stroke-linejoin="round" stroke-linecap="round"/><path d="M407.4,154.1C409.4,154.1 409.4,204.4 411.4,204.4" fill="none" stroke="#3d9fc6" stroke-width="1.5" stroke-dasharray="0.1 3.3" stroke-linecap="round"/><text x="50.9" y="224.85" class="ax" text-anchor="middle">9 Nov 2025</text><text x="127.01" y="224.85" class="ax" text-anchor="middle">28 Nov 2025</text><text x="203.11" y="224.85" class="ax" text-anchor="middle">17 Dec 2025</text><text x="279.22" y="224.85" class="ax" text-anchor="middle">5 Jan 2026</text><text x="355.32" y="224.85" class="ax" text-anchor="middle">24 Jan 2026</text><circle cx="103.7" cy="251.35" r="2.6" fill="#0f9fdc"/><text x="113.7" y="254.45" class="ax">9 Nov 2025–7 Feb 2026</text><circle cx="231.7" cy="251.35" r="2.6" fill="#93cbe8"/><text x="241.4" y="254.45" class="ax">10 Aug–8 Nov 2025</text></svg></div><div class="card " style="left:1085.2px;top:733.15px;width:427.8px;height:272.84px"><div class="ct"><span>Conversion rate breakdown</span></div><div class="big"><span style="letter-spacing:-.3px">5.17%</span> <span style="margin-left:1px"><span class="tr up "><svg class="ar" viewBox="0 0 8 8"><path d="M2.2 1.6h4.2v4.2M6.2 1.8L1.6 6.4" fill="none" stroke="currentColor" stroke-width="1.7"/></svg>584%</span></span></div><svg class="warn" viewBox="0 0 12 12"><path d="M6 1.4L11 10.3H1z" fill="none" stroke="#8a8a8a" stroke-width="1.1" stroke-linejoin="round"/><path d="M6 4.6v2.6M6 8.4v.8" stroke="#8a8a8a" stroke-width="1.1"/></svg><svg class="lc" width="427.8" height="273.44"><defs><linearGradient id="fg" x1="0" x2="1" y1="0" y2="0"><stop offset="0" stop-color="#8fabf7"/><stop offset="1" stop-color="#b6c7fb"/></linearGradient></defs><line x1="118.2" x2="118.2" y1="62.85" y2="260.65" stroke="#ebebeb" stroke-width="1"/><line x1="225.1" x2="225.1" y1="62.85" y2="260.65" stroke="#ebebeb" stroke-width="1"/><line x1="332" x2="332" y1="62.85" y2="260.65" stroke="#ebebeb" stroke-width="1"/><path d="M12.4,260.6 V130.1 Q12.4,127.1 15.4,127.1 H93.0 V260.6 Z" fill="#2f5de6"/><path d="M12.4,153.9 l1.6,2 H93.0 v-1.2 H12.4 Z" fill="#fff" opacity=".0"/><path d="M12.4,156.4 l1.8,-1.4 H93.0 M12.4,159.5 l1.8,1.4 H93.0" stroke="#1e3fb0" stroke-width="1.2" fill="none"/><path d="M12.2,155.1 l2,2.6 l-2,2.6 Z" fill="#fff"/><path d="M93.3,127.1 L117.1,206.0 V260.6 H93.3 Z" fill="url(#fg)"/><rect x="119.4" y="206.0" width="80.6" height="54.7" fill="#2f5de6"/><path d="M200.3,206.0 L224.1,211.9 V260.6 H200.3 Z" fill="url(#fg)"/><rect x="226.4" y="211.9" width="80.6" height="48.8" fill="#2f5de6"/><path d="M307.3,211.9 L331.1,227.1 V260.6 H307.3 Z" fill="url(#fg)"/><path d="M333.4,260.6 V227.1 H411.0 Q414.0,227.1 414.0,230.1 V260.6 Z" fill="#2f5de6"/></svg><svg class="abs" style="left:14.6px;top:71.65px" width="9" height="10" viewBox="0 0 9 10"><path d="M5.2.6L2 5.2h2.3L3.6 9.4 7 4.6H4.6z" fill="#4a4a4a"/></svg><div class="abs fl" style="left:28.6px;top:70.65px">Sessions</div><div class="abs" style="left:12.6px;top:84.75px;font-size:11.1px;line-height:13px;letter-spacing:.2px;white-space:nowrap">100%</div><div class="abs" style="left:12.6px;top:99.85px;font-size:10.3px;line-height:12px;letter-spacing:.25px;white-space:nowrap">1,547 <span style="margin-left:0px"><span class="tr up f"><svg class="ar" viewBox="0 0 8 8"><path d="M2.2 1.6h4.2v4.2M6.2 1.8L1.6 6.4" fill="none" stroke="currentColor" stroke-width="1.7"/></svg>46%</span></span></div><div class="abs fl" style="left:127.3px;top:70.65px">Added to cart</div><div class="abs" style="left:127.3px;top:84.75px;font-size:11.1px;line-height:13px;letter-spacing:.2px;white-space:nowrap">14.93%</div><div class="abs" style="left:127.3px;top:99.85px;font-size:10.3px;line-height:12px;letter-spacing:.25px;white-space:nowrap">231 <span style="margin-left:0px"><span class="tr up f"><svg class="ar" viewBox="0 0 8 8"><path d="M2.2 1.6h4.2v4.2M6.2 1.8L1.6 6.4" fill="none" stroke="currentColor" stroke-width="1.7"/></svg>267%</span></span></div><div class="abs fl" style="left:234.3px;top:70.65px">Reached checkout</div><div class="abs" style="left:234.3px;top:84.75px;font-size:11.1px;line-height:13px;letter-spacing:.2px;white-space:nowrap">11.57%</div><div class="abs" style="left:234.3px;top:99.85px;font-size:10.3px;line-height:12px;letter-spacing:.25px;white-space:nowrap">179 <span style="margin-left:0px"><span class="tr up f"><svg class="ar" viewBox="0 0 8 8"><path d="M2.2 1.6h4.2v4.2M6.2 1.8L1.6 6.4" fill="none" stroke="currentColor" stroke-width="1.7"/></svg>251%</span></span></div><div class="abs fl" style="left:341.3px;top:70.65px">Completed c...</div><div class="abs" style="left:341.3px;top:84.75px;font-size:11.1px;line-height:13px;letter-spacing:.2px;white-space:nowrap">5.17%</div><div class="abs" style="left:341.3px;top:99.85px;font-size:10.3px;line-height:12px;letter-spacing:.25px;white-space:nowrap">80 <span style="margin-left:0px"><span class="tr up f"><svg class="ar" viewBox="0 0 8 8"><path d="M2.2 1.6h4.2v4.2M6.2 1.8L1.6 6.4" fill="none" stroke="currentColor" stroke-width="1.7"/></svg>900%</span></span></div></div><div class="card " style="left:204px;top:1019.31px;width:427.8px;height:272.84px"><div class="ct"><span>Sessions by device type</span></div><svg class="lc" width="427.8" height="273.44"><path d="M143.79,42.40 A105.20,105.20 0 1 1 43.64,111.61 L63.28,118.76 A84.30,84.30 0 1 0 143.53,63.30 Z" fill="#13abee"/><path d="M44.42,109.55 A105.20,105.20 0 0 1 128.59,43.31 L131.35,64.03 A84.30,84.30 0 0 0 63.91,117.11 Z" fill="#683fe8"/><path d="M130.59,43.07 A105.20,105.20 0 0 1 134.06,42.73 L135.74,63.56 A84.30,84.30 0 0 0 132.96,63.83 Z" fill="#5680e0"/><path d="M136.26,42.58 A105.20,105.20 0 0 1 140.30,42.41 L140.73,63.31 A84.30,84.30 0 0 0 137.50,63.44 Z" fill="#d6409f"/></svg><div class="abs" style="left:82.5px;top:127.39px;width:120px;text-align:center;font-weight:bold;font-size:21.5px;line-height:24px;color:#1f1f1f;letter-spacing:.6px">1.5K</div><div class="abs" style="left:82.5px;top:159.49px;width:120px;text-align:center;line-height:10px"><span class="tr up "><svg class="ar" viewBox="0 0 8 8"><path d="M2.2 1.6h4.2v4.2M6.2 1.8L1.6 6.4" fill="none" stroke="currentColor" stroke-width="1.7"/></svg>46%</span></div><div class="abs" style="left:272.3px;top:109.79px;width:9px;height:9px;border-radius:1.5px;background:#13abee"></div><div class="abs" style="left:283.8px;top:109.49px;line-height:12px;color:#616161;letter-spacing:.3px;white-space:nowrap">Mobile</div><div class="abs" style="right:60.4px;top:109.49px;line-height:12px;color:#616161;letter-spacing:.2px;white-space:nowrap">1.2K</div><div class="abs" style="right:35.1px;top:109.69px;line-height:12px"><span class="tr up xs"><svg class="ar" viewBox="0 0 8 8"><path d="M2.2 1.6h4.2v4.2M6.2 1.8L1.6 6.4" fill="none" stroke="currentColor" stroke-width="1.7"/></svg>73%</span></div><div class="abs" style="left:272.3px;top:132.12px;width:9px;height:9px;border-radius:1.5px;background:#683fe8"></div><div class="abs" style="left:283.8px;top:131.82px;line-height:12px;color:#616161;letter-spacing:.3px;white-space:nowrap">Desktop</div><div class="abs" style="right:60.4px;top:131.82px;line-height:12px;color:#616161;letter-spacing:.2px;white-space:nowrap">261</div><div class="abs" style="right:35.1px;top:132.02px;line-height:12px"><span class="tr dn xs"><svg class="ar" viewBox="0 0 8 8"><path d="M2.2 6.4h4.2V2.2M6.2 6.2L1.6 1.6" fill="none" stroke="currentColor" stroke-width="1.7"/></svg>16%</span></div><div class="abs" style="left:272.3px;top:154.45px;width:9px;height:9px;border-radius:1.5px;background:#5680e0"></div><div class="abs" style="left:283.8px;top:154.15px;line-height:12px;color:#616161;letter-spacing:.3px;white-space:nowrap">Tablet</div><div class="abs" style="right:60.4px;top:154.15px;line-height:12px;color:#616161;letter-spacing:.2px;white-space:nowrap">3</div><div class="abs" style="right:35.1px;top:154.35px;line-height:12px"><span class="tr dn xs"><svg class="ar" viewBox="0 0 8 8"><path d="M2.2 6.4h4.2V2.2M6.2 6.2L1.6 1.6" fill="none" stroke="currentColor" stroke-width="1.7"/></svg>25%</span></div><div class="abs" style="left:272.3px;top:176.78px;width:9px;height:9px;border-radius:1.5px;background:#d6409f"></div><div class="abs" style="left:283.8px;top:176.48px;line-height:12px;color:#616161;letter-spacing:.3px;white-space:nowrap">Other</div><div class="abs" style="right:60.4px;top:176.48px;line-height:12px;color:#616161;letter-spacing:.2px;white-space:nowrap">3</div><div class="abs" style="right:35.1px;top:176.68px;line-height:12px"><span class="tr dn xs"><svg class="ar" viewBox="0 0 8 8"><path d="M2.2 6.4h4.2V2.2M6.2 6.2L1.6 1.6" fill="none" stroke="currentColor" stroke-width="1.7"/></svg>25%</span></div></div><div class="card " style="left:644.6px;top:1019.31px;width:427.8px;height:272.84px"><div class="ct"><span>Sessions by location</span></div><div class="hl" style="left:13px;top:38.19px">United States · Iowa · Council Bluffs</div><div class="hb b1" style="left:13px;top:51.39px;width:116.87px;height:8px"></div><div class="hv" style="left:138.47px;top:52.09px;height:8px;line-height:8px">56 <span class="tr dn sm2"><svg class="ar" viewBox="0 0 8 8"><path d="M2.2 6.4h4.2V2.2M6.2 6.2L1.6 1.6" fill="none" stroke="currentColor" stroke-width="1.7"/></svg>65%</span></div><div class="hb b2" style="left:13px;top:61.79px;width:333.92px;height:8px"></div><div class="hv" style="left:355.52px;top:62.49px;height:8px;line-height:8px">160</div><div class="hl" style="left:13px;top:85.89px">United States · Georgia · Marietta</div><div class="hb b1" style="left:13px;top:99.09px;width:93.92px;height:8px"></div><div class="hv" style="left:115.52px;top:99.79px;height:8px;line-height:8px">45 <span class="tr up sm2"><svg class="ar" viewBox="0 0 8 8"><path d="M2.2 1.6h4.2v4.2M6.2 1.8L1.6 6.4" fill="none" stroke="currentColor" stroke-width="1.7"/></svg>4.4K%</span></div><div class="hb b2" style="left:13px;top:109.49px;width:8.35px;height:8px"></div><div class="hv" style="left:29.95px;top:110.19px;height:8px;line-height:8px">4</div><div class="hl" style="left:13px;top:133.59px">United States · New York · New York</div><div class="hb b1" style="left:13px;top:146.79px;width:85.57px;height:8px"></div><div class="hv" style="left:107.17px;top:147.49px;height:8px;line-height:8px">41 <span class="tr up sm2"><svg class="ar" viewBox="0 0 8 8"><path d="M2.2 1.6h4.2v4.2M6.2 1.8L1.6 6.4" fill="none" stroke="currentColor" stroke-width="1.7"/></svg>193%</span></div><div class="hb b2" style="left:13px;top:157.19px;width:31.31px;height:8px"></div><div class="hv" style="left:52.91px;top:157.89px;height:8px;line-height:8px">15</div><div class="hl" style="left:13px;top:181.29px">United States · Minnesota · Minneapolis</div><div class="hb b1" style="left:13px;top:194.49px;width:85.57px;height:8px"></div><div class="hv" style="left:107.17px;top:195.19px;height:8px;line-height:8px">41 <span class="tr up sm2"><svg class="ar" viewBox="0 0 8 8"><path d="M2.2 1.6h4.2v4.2M6.2 1.8L1.6 6.4" fill="none" stroke="currentColor" stroke-width="1.7"/></svg>52%</span></div><div class="hb b2" style="left:13px;top:204.89px;width:56.35px;height:8px"></div><div class="hv" style="left:77.95px;top:205.59px;height:8px;line-height:8px">27</div><div class="hl" style="left:13px;top:228.99px">United States · Ohio · Columbus</div><div class="hb b1" style="left:13px;top:242.19px;width:64.7px;height:8px"></div><div class="hv" style="left:86.3px;top:242.89px;height:8px;line-height:8px">31 <span class="tr up sm2"><svg class="ar" viewBox="0 0 8 8"><path d="M2.2 1.6h4.2v4.2M6.2 1.8L1.6 6.4" fill="none" stroke="currentColor" stroke-width="1.7"/></svg>63%</span></div><div class="hb b2" style="left:13px;top:252.59px;width:43.83px;height:8px"></div><div class="hv" style="left:65.43px;top:253.29px;height:8px;line-height:8px">21</div></div><div class="card " style="left:1085.2px;top:1019.31px;width:427.8px;height:272.84px"><div class="ct"><span>Total sales by social referrer</span></div><div class="nodata" style="top:141.89px">No data for this date range</div></div><div class="card " style="left:204px;top:1305.47px;width:868.4px;height:308.61px"><div class="ct"><span>Customer cohort analysis</span></div><div class="abs ch" style="left:12.5px;top:37.53px">Cohort</div><div class="abs ch" style="right:753px;top:37.53px">Customers</div><div class="abs ch" style="left:443.5px;top:37.53px;width:100px;text-align:center">Months</div><div class="abs cl" style="left:12.6px;top:60.93px">Jun 2025</div><div class="abs cl" style="right:753.4px;top:60.93px">0</div><div class="abs cc" style="left:131.3px;top:50.73px;width:90.7px;height:30.9px;line-height:30.9px;background:#f5f7fe;color:#3d4966">0%</div><div class="abs cc" style="left:221.8px;top:50.73px;width:90.7px;height:30.9px;line-height:30.9px;background:#f5f7fe;color:#3d4966">0%</div><div class="abs cc" style="left:312.3px;top:50.73px;width:90.7px;height:30.9px;line-height:30.9px;background:#f5f7fe;color:#3d4966">0%</div><div class="abs cc" style="left:402.8px;top:50.73px;width:90.7px;height:30.9px;line-height:30.9px;background:#f5f7fe;color:#3d4966">0%</div><div class="abs cc" style="left:493.3px;top:50.73px;width:90.7px;height:30.9px;line-height:30.9px;background:#f5f7fe;color:#3d4966">0%</div><div class="abs cc" style="left:583.8px;top:50.73px;width:90.7px;height:30.9px;line-height:30.9px;background:#f5f7fe;color:#3d4966">0%</div><div class="abs cc" style="left:674.3px;top:50.73px;width:90.7px;height:30.9px;line-height:30.9px;background:#f5f7fe;color:#3d4966">0%</div><div class="abs cc" style="left:764.8px;top:50.73px;width:90.7px;height:30.9px;line-height:30.9px;background:#f5f7fe;color:#3d4966">0%</div><div class="abs cl" style="left:12.6px;top:91.68px">Jul 2025</div><div class="abs cl" style="right:753.4px;top:91.68px">0</div><div class="abs cc" style="left:131.3px;top:81.48px;width:90.7px;height:30.9px;line-height:30.9px;background:#f5f7fe;color:#3d4966">0%</div><div class="abs cc" style="left:221.8px;top:81.48px;width:90.7px;height:30.9px;line-height:30.9px;background:#f5f7fe;color:#3d4966">0%</div><div class="abs cc" style="left:312.3px;top:81.48px;width:90.7px;height:30.9px;line-height:30.9px;background:#f5f7fe;color:#3d4966">0%</div><div class="abs cc" style="left:402.8px;top:81.48px;width:90.7px;height:30.9px;line-height:30.9px;background:#f5f7fe;color:#3d4966">0%</div><div class="abs cc" style="left:493.3px;top:81.48px;width:90.7px;height:30.9px;line-height:30.9px;background:#f5f7fe;color:#3d4966">0%</div><div class="abs cc" style="left:583.8px;top:81.48px;width:90.7px;height:30.9px;line-height:30.9px;background:#f5f7fe;color:#3d4966">0%</div><div class="abs cc" style="left:674.3px;top:81.48px;width:90.7px;height:30.9px;line-height:30.9px;background:#f5f7fe;color:#3d4966">0%</div><div class="abs cl" style="left:12.6px;top:122.43px">Aug 2025</div><div class="abs cl" style="right:753.4px;top:122.43px">1</div><div class="abs cc" style="left:131.3px;top:112.23px;width:90.7px;height:30.9px;line-height:30.9px;background:#f5f7fe;color:#3d4966">0%</div><div class="abs cc" style="left:221.8px;top:112.23px;width:90.7px;height:30.9px;line-height:30.9px;background:#f5f7fe;color:#3d4966">0%</div><div class="abs cc" style="left:312.3px;top:112.23px;width:90.7px;height:30.9px;line-height:30.9px;background:#f5f7fe;color:#3d4966">0%</div><div class="abs cc" style="left:402.8px;top:112.23px;width:90.7px;height:30.9px;line-height:30.9px;background:#f5f7fe;color:#3d4966">0%</div><div class="abs cc" style="left:493.3px;top:112.23px;width:90.7px;height:30.9px;line-height:30.9px;background:#f5f7fe;color:#3d4966">0%</div><div class="abs cc" style="left:583.8px;top:112.23px;width:90.7px;height:30.9px;line-height:30.9px;background:#f5f7fe;color:#3d4966">0%</div><div class="abs cl" style="left:12.6px;top:153.18px">Sept 2025</div><div class="abs cl" style="right:753.4px;top:153.18px">1</div><div class="abs cc" style="left:131.3px;top:142.98px;width:90.7px;height:30.9px;line-height:30.9px;background:#f5f7fe;color:#3d4966">0%</div><div class="abs cc" style="left:221.8px;top:142.98px;width:90.7px;height:30.9px;line-height:30.9px;background:#f5f7fe;color:#3d4966">0%</div><div class="abs cc" style="left:312.3px;top:142.98px;width:90.7px;height:30.9px;line-height:30.9px;background:#f5f7fe;color:#3d4966">0%</div><div class="abs cc" style="left:402.8px;top:142.98px;width:90.7px;height:30.9px;line-height:30.9px;background:#f5f7fe;color:#3d4966">0%</div><div class="abs cc" style="left:493.3px;top:142.98px;width:90.7px;height:30.9px;line-height:30.9px;background:#f5f7fe;color:#3d4966">0%</div><div class="abs cl" style="left:12.6px;top:183.93px">Oct 2025</div><div class="abs cl" style="right:753.4px;top:183.93px">1</div><div class="abs cc" style="left:131.3px;top:173.73px;width:90.7px;height:30.9px;line-height:30.9px;background:#1437b4;color:#fff">100%</div><div class="abs cc" style="left:221.8px;top:173.73px;width:90.7px;height:30.9px;line-height:30.9px;background:#1437b4;color:#fff">100%</div><div class="abs cc" style="left:312.3px;top:173.73px;width:90.7px;height:30.9px;line-height:30.9px;background:#f5f7fe;color:#3d4966">0%</div><div class="abs cc" style="left:402.8px;top:173.73px;width:90.7px;height:30.9px;line-height:30.9px;background:#f5f7fe;color:#3d4966">0%</div><div class="abs cl" style="left:12.6px;top:214.68px">Nov 2025</div><div class="abs cl" style="right:753.4px;top:214.68px">26</div><div class="abs cc" style="left:131.3px;top:204.48px;width:90.7px;height:30.9px;line-height:30.9px;background:#eef1fd;color:#3d4966">11.53%</div><div class="abs cc" style="left:221.8px;top:204.48px;width:90.7px;height:30.9px;line-height:30.9px;background:#f2f4fe;color:#3d4966">7.69%</div><div class="abs cc" style="left:312.3px;top:204.48px;width:90.7px;height:30.9px;line-height:30.9px;background:#f5f7fe;color:#3d4966">3.84%</div><div class="abs cl" style="left:12.6px;top:245.43px">Dec 2025</div><div class="abs cl" style="right:753.4px;top:245.43px">27</div><div class="abs cc" style="left:131.3px;top:235.23px;width:90.7px;height:30.9px;line-height:30.9px;background:#f5f7fe;color:#3d4966">3.7%</div><div class="abs cc" style="left:221.8px;top:235.23px;width:90.7px;height:30.9px;line-height:30.9px;background:#f2f4fe;color:#3d4966">7.4%</div><div class="abs cl" style="left:12.6px;top:276.18px">Jan 2026</div><div class="abs cl" style="right:753.4px;top:276.18px">20</div><div class="abs cc" style="left:131.3px;top:265.98px;width:90.7px;height:30.9px;line-height:30.9px;background:#f5f7fe;color:#3d4966">5%</div></div><div class="card " style="left:1085.2px;top:1305.47px;width:427.8px;height:308.61px"><div class="ct"><span>Sessions by landing page</span></div><svg class="warn" viewBox="0 0 12 12"><path d="M6 1.4L11 10.3H1z" fill="none" stroke="#8a8a8a" stroke-width="1.1" stroke-linejoin="round"/><path d="M6 4.6v2.6M6 8.4v.8" stroke="#8a8a8a" stroke-width="1.1"/></svg><div class="abs" style="left:12.4px;top:34.63px;width:390.5px;height:22.7px;border-radius:6px;"></div><div class="abs" style="left:17.7px;top:38.78px;line-height:15.8px;letter-spacing:.33px;white-space:nowrap;color:#303030">Homepage · /</div><div class="abs" style="right:30.6px;top:40.58px;line-height:12px;white-space:nowrap"><b style="letter-spacing:.3px;margin-right:5px">723</b><span class="tr up "><svg class="ar" viewBox="0 0 8 8"><path d="M2.2 1.6h4.2v4.2M6.2 1.8L1.6 6.4" fill="none" stroke="currentColor" stroke-width="1.7"/></svg>0.8%</span></div><div class="abs" style="left:12.4px;top:57.33px;width:390.5px;height:38.1px;border-radius:6px;background:#f7f7f7;"></div><div class="abs" style="left:17.7px;top:61.28px;line-height:15.8px;letter-spacing:.52px;white-space:nowrap;color:#303030">Product · /products/effet-injection-extrem-brightening-body-<br>up-to-5-shade-6in1-set-yellow-soap-for-skin-brightening-an...</div><div class="abs" style="right:30.6px;top:70.98px;line-height:12px;white-space:nowrap"><b style="letter-spacing:.3px;margin-right:5px">62</b><span class="tr up "><svg class="ar" viewBox="0 0 8 8"><path d="M2.2 1.6h4.2v4.2M6.2 1.8L1.6 6.4" fill="none" stroke="currentColor" stroke-width="1.7"/></svg>6.1K%</span></div><div class="abs" style="left:12.4px;top:95.43px;width:390.5px;height:22.7px;border-radius:6px;"></div><div class="abs" style="left:17.7px;top:99.58px;line-height:15.8px;letter-spacing:.33px;white-space:nowrap;color:#303030">Product · /products/untitled-jan3_18-59</div><div class="abs" style="right:68.4px;top:101.38px;line-height:12px;font-weight:bold;letter-spacing:.3px">58</div><div class="abs" style="left:378px;top:106.48px;width:9px;height:1px;background:#8a8a8a"></div><div class="abs" style="left:12.4px;top:118.13px;width:390.5px;height:38.1px;border-radius:6px;background:#f7f7f7;"></div><div class="abs" style="left:17.7px;top:122.08px;line-height:15.8px;letter-spacing:.52px;white-space:nowrap;color:#303030">Product · /products/5d-ultra-brightening-and-polishing-vitess-<br>8-up-to-5-to-6-shade-body-soap-for-strong-skin</div><div class="abs" style="right:30.6px;top:131.78px;line-height:12px;white-space:nowrap"><b style="letter-spacing:.3px;margin-right:5px">36</b><span class="tr up "><svg class="ar" viewBox="0 0 8 8"><path d="M2.2 1.6h4.2v4.2M6.2 1.8L1.6 6.4" fill="none" stroke="currentColor" stroke-width="1.7"/></svg>500%</span></div><div class="abs" style="left:12.4px;top:156.23px;width:390.5px;height:22.7px;border-radius:6px;"></div><div class="abs" style="left:17.7px;top:160.38px;line-height:15.8px;letter-spacing:.33px;white-space:nowrap;color:#303030">Cart · /cart</div><div class="abs" style="right:30.6px;top:162.18px;line-height:12px;white-space:nowrap"><b style="letter-spacing:.3px;margin-right:5px">33</b><span class="tr up "><svg class="ar" viewBox="0 0 8 8"><path d="M2.2 1.6h4.2v4.2M6.2 1.8L1.6 6.4" fill="none" stroke="currentColor" stroke-width="1.7"/></svg>725%</span></div><div class="abs" style="left:12.4px;top:178.93px;width:390.5px;height:38.1px;border-radius:6px;background:#f7f7f7;"></div><div class="abs" style="left:17.7px;top:182.88px;line-height:15.8px;letter-spacing:.52px;white-space:nowrap;color:#303030">Product · /products/glams-beauty-whitening-and-anti-aging-<br>anti-aging-facial-cream</div><div class="abs" style="right:68.4px;top:192.58px;line-height:12px;font-weight:bold;letter-spacing:.3px">29</div><div class="abs" style="left:378px;top:197.68px;width:9px;height:1px;background:#8a8a8a"></div><div class="abs" style="left:12.4px;top:217.03px;width:390.5px;height:38.1px;border-radius:6px;"></div><div class="abs" style="left:17.7px;top:220.98px;line-height:15.8px;letter-spacing:.52px;white-space:nowrap;color:#303030">Product · /products/urgence-booster-extra-fort-fast-action-<br>whitening-skin-serum-body-and-face</div><div class="abs" style="right:68.4px;top:230.68px;line-height:12px;font-weight:bold;letter-spacing:.3px">27</div><div class="abs" style="left:378px;top:235.78px;width:9px;height:1px;background:#8a8a8a"></div><div class="abs" style="left:12.4px;top:255.13px;width:390.5px;height:38.1px;border-radius:6px;background:#f7f7f7;"></div><div class="abs" style="left:17.7px;top:259.08px;line-height:15.8px;letter-spacing:.52px;white-space:nowrap;color:#303030">Product · /products/emergency-fast-action-extra-brightening-<br>and-whitening-body-soap-for-event-wedding-anniversary-...</div><div class="abs" style="right:68.4px;top:268.78px;line-height:12px;font-weight:bold;letter-spacing:.3px">27</div><div class="abs" style="left:378px;top:273.88px;width:9px;height:1px;background:#8a8a8a"></div><div class="abs" style="left:406.5px;top:49.33px;width:6.2px;height:192px;border-radius:3px;background:#b5b5b5"></div><div class="abs sa" style="left:406.2px;top:39.53px;border-bottom:4.5px solid #b5b5b5;border-left-width:3.4px;border-right-width:3.4px"></div><div class="abs sa" style="left:406.2px;top:288.13px;border-top:4.5px solid #b5b5b5;border-left-width:3.4px;border-right-width:3.4px"></div></div><div class="card " style="left:204px;top:1627.4px;width:427.8px;height:272.84px"><div class="ct"><span>Sessions by social referrer</span></div><div class="hl" style="left:12.5px;top:38px">tiktok</div><div class="hb b1" style="left:12.5px;top:50.9px;width:345.4px;height:24.4px"></div><div class="hv" style="left:366.5px;top:51.6px;height:24.4px;line-height:24.4px">11 <span class="tr up sm2"><svg class="ar" viewBox="0 0 8 8"><path d="M2.2 1.6h4.2v4.2M6.2 1.8L1.6 6.4" fill="none" stroke="currentColor" stroke-width="1.7"/></svg>267%</span></div><div class="hb b2" style="left:12.5px;top:77.4px;width:94.2px;height:24.4px"></div><div class="hv" style="left:115.3px;top:78.1px;height:24.4px;line-height:24.4px">3</div><div class="hl" style="left:12.5px;top:117.4px">facebook</div><div class="hb b1" style="left:12.5px;top:130.3px;width:94.2px;height:24.4px"></div><div class="hv" style="left:115.3px;top:131px;height:24.4px;line-height:24.4px">3 <span class="tr dn sm2"><svg class="ar" viewBox="0 0 8 8"><path d="M2.2 6.4h4.2V2.2M6.2 6.2L1.6 1.6" fill="none" stroke="currentColor" stroke-width="1.7"/></svg>25%</span></div><div class="hb b2" style="left:12.5px;top:156.8px;width:125.6px;height:24.4px"></div><div class="hv" style="left:146.7px;top:157.5px;height:24.4px;line-height:24.4px">4</div><div class="hl" style="left:12.5px;top:196.8px">instagram</div><div class="hb b1" style="left:12.5px;top:209.7px;width:1px;height:24.4px"></div><div class="hv" style="left:22.1px;top:210.4px;height:24.4px;line-height:24.4px">0 <span class="tr dn sm2"><svg class="ar" viewBox="0 0 8 8"><path d="M2.2 6.4h4.2V2.2M6.2 6.2L1.6 1.6" fill="none" stroke="currentColor" stroke-width="1.7"/></svg>100%</span></div><div class="hb b2" style="left:12.5px;top:236.2px;width:31.4px;height:24.4px"></div><div class="hv" style="left:52.5px;top:236.9px;height:24.4px;line-height:24.4px">1</div></div><div class="card " style="left:644.6px;top:1627.4px;width:427.8px;height:272.84px"><div class="ct"><span>Total sales by referrer</span></div><div class="hl" style="left:13px;top:38px">None · None</div><div class="hb b1" style="left:13px;top:50.9px;width:323.69px;height:8.2px"></div><div class="hv" style="left:345.29px;top:51.6px;height:8.2px;line-height:8.2px">$8.9K <span class="tr up sm2"><svg class="ar" viewBox="0 0 8 8"><path d="M2.2 1.6h4.2v4.2M6.2 1.8L1.6 6.4" fill="none" stroke="currentColor" stroke-width="1.7"/></svg>1.5K%</span></div><div class="hb b2" style="left:13px;top:61.3px;width:20.08px;height:8.2px"></div><div class="hv" style="left:41.68px;top:62px;height:8.2px;line-height:8.2px">$552</div><div class="hl" style="left:13px;top:85.7px">None · android</div><div class="hb b1" style="left:13px;top:98.6px;width:85.11px;height:8.2px"></div><div class="hv" style="left:106.71px;top:99.3px;height:8.2px;line-height:8.2px">$2.3K <span class="tr no sm2"><i class="dash"></i></span></div><div class="hb b2" style="left:13px;top:109px;width:1px;height:8.2px"></div><div class="hv" style="left:22.6px;top:109.7px;height:8.2px;line-height:8.2px">$0</div><div class="hl" style="left:13px;top:133.4px">None · jbeautyskin</div><div class="hb b1" style="left:13px;top:146.3px;width:14px;height:8.2px"></div><div class="hv" style="left:35.6px;top:147px;height:8.2px;line-height:8.2px">$385 <span class="tr up sm2"><svg class="ar" viewBox="0 0 8 8"><path d="M2.2 1.6h4.2v4.2M6.2 1.8L1.6 6.4" fill="none" stroke="currentColor" stroke-width="1.7"/></svg>370%</span></div><div class="hb b2" style="left:13px;top:156.7px;width:12.51px;height:8.2px"></div><div class="hv" style="left:34.11px;top:157.4px;height:8.2px;line-height:8.2px">$344</div><div class="hl" style="left:13px;top:181.1px">search · google</div><div class="hb b1" style="left:13px;top:194px;width:10.84px;height:8.2px"></div><div class="hv" style="left:32.44px;top:194.7px;height:8.2px;line-height:8.2px">$298 <span class="tr no sm2"><i class="dash"></i></span></div><div class="hb b2" style="left:13px;top:204.4px;width:1px;height:8.2px"></div><div class="hv" style="left:22.6px;top:205.1px;height:8.2px;line-height:8.2px">$0</div><div class="hl" style="left:13px;top:228.8px">None · shopify</div><div class="hb b1" style="left:13px;top:241.7px;width:7.38px;height:8.2px"></div><div class="hv" style="left:28.98px;top:242.4px;height:8.2px;line-height:8.2px">$203 <span class="tr dn sm2"><svg class="ar" viewBox="0 0 8 8"><path d="M2.2 6.4h4.2V2.2M6.2 6.2L1.6 1.6" fill="none" stroke="currentColor" stroke-width="1.7"/></svg>32%</span></div><div class="hb b2" style="left:13px;top:252.1px;width:10.84px;height:8.2px"></div><div class="hv" style="left:32.44px;top:252.8px;height:8.2px;line-height:8.2px">$298</div></div><div class="card " style="left:1085.2px;top:1627.4px;width:427.8px;height:272.84px"><div class="ct"><span>Sales attributed to marketing</span></div><div class="hl" style="left:12.3px;top:38px">google · search</div><div class="hb b1" style="left:12.3px;top:50.9px;width:333.76px;height:44.4px"></div><div class="hv" style="left:354.66px;top:51.6px;height:44.4px;line-height:44.4px">$298 <span class="tr no sm2"><i class="dash"></i></span></div><div class="hb b2" style="left:12.3px;top:97.4px;width:1px;height:44.4px"></div><div class="hv" style="left:21.9px;top:98.1px;height:44.4px;line-height:44.4px">$0</div><div class="hl" style="left:12.3px;top:157.4px">shopify · None</div><div class="hb b1" style="left:12.3px;top:170.3px;width:227.36px;height:44.4px"></div><div class="hv" style="left:248.26px;top:171px;height:44.4px;line-height:44.4px">$203 <span class="tr dn sm2"><svg class="ar" viewBox="0 0 8 8"><path d="M2.2 6.4h4.2V2.2M6.2 6.2L1.6 1.6" fill="none" stroke="currentColor" stroke-width="1.7"/></svg>32%</span></div><div class="hb b2" style="left:12.3px;top:216.8px;width:333.76px;height:44.4px"></div><div class="hv" style="left:354.66px;top:217.5px;height:44.4px;line-height:44.4px">$298</div></div><div class="card " style="left:204px;top:1913.56px;width:427.8px;height:272.84px"><div class="ct"><span>Sessions by referrer</span></div><div class="hl" style="left:12.5px;top:38.04px">Direct · None · None</div><div class="hb b1" style="left:12.5px;top:51.34px;width:152.35px;height:8.2px"></div><div class="hv" style="left:173.45px;top:52.04px;height:8.2px;line-height:8.2px">73 <span class="tr dn sm2"><svg class="ar" viewBox="0 0 8 8"><path d="M2.2 6.4h4.2V2.2M6.2 6.2L1.6 1.6" fill="none" stroke="currentColor" stroke-width="1.7"/></svg>23%</span></div><div class="hb b2" style="left:12.5px;top:61.74px;width:198.27px;height:8.2px"></div><div class="hv" style="left:219.37px;top:62.44px;height:8.2px;line-height:8.2px">95</div><div class="hl" style="left:12.5px;top:85.74px">Direct · None · Council Bluffs</div><div class="hb b1" style="left:12.5px;top:99.04px;width:116.87px;height:8.2px"></div><div class="hv" style="left:137.97px;top:99.74px;height:8.2px;line-height:8.2px">56 <span class="tr dn sm2"><svg class="ar" viewBox="0 0 8 8"><path d="M2.2 6.4h4.2V2.2M6.2 6.2L1.6 1.6" fill="none" stroke="currentColor" stroke-width="1.7"/></svg>65%</span></div><div class="hb b2" style="left:12.5px;top:109.44px;width:333.92px;height:8.2px"></div><div class="hv" style="left:355.02px;top:110.14px;height:8.2px;line-height:8.2px">160</div><div class="hl" style="left:12.5px;top:133.44px">Direct · None · Marietta</div><div class="hb b1" style="left:12.5px;top:146.74px;width:75.13px;height:8.2px"></div><div class="hv" style="left:96.23px;top:147.44px;height:8.2px;line-height:8.2px">36 <span class="tr up sm2"><svg class="ar" viewBox="0 0 8 8"><path d="M2.2 1.6h4.2v4.2M6.2 1.8L1.6 6.4" fill="none" stroke="currentColor" stroke-width="1.7"/></svg>3.5K%</span></div><div class="hb b2" style="left:12.5px;top:157.14px;width:8.35px;height:8.2px"></div><div class="hv" style="left:29.45px;top:157.84px;height:8.2px;line-height:8.2px">4</div><div class="hl" style="left:12.5px;top:181.14px">Direct · None · New York</div><div class="hb b1" style="left:12.5px;top:194.44px;width:73.05px;height:8.2px"></div><div class="hv" style="left:94.14px;top:195.14px;height:8.2px;line-height:8.2px">35 <span class="tr up sm2"><svg class="ar" viewBox="0 0 8 8"><path d="M2.2 1.6h4.2v4.2M6.2 1.8L1.6 6.4" fill="none" stroke="currentColor" stroke-width="1.7"/></svg>192%</span></div><div class="hb b2" style="left:12.5px;top:204.84px;width:27.13px;height:8.2px"></div><div class="hv" style="left:48.23px;top:205.54px;height:8.2px;line-height:8.2px">13</div><div class="hl" style="left:12.5px;top:228.84px">Direct · None · Minneapolis</div><div class="hb b1" style="left:12.5px;top:242.14px;width:66.78px;height:8.2px"></div><div class="hv" style="left:87.88px;top:242.84px;height:8.2px;line-height:8.2px">32 <span class="tr up sm2"><svg class="ar" viewBox="0 0 8 8"><path d="M2.2 1.6h4.2v4.2M6.2 1.8L1.6 6.4" fill="none" stroke="currentColor" stroke-width="1.7"/></svg>39%</span></div><div class="hb b2" style="left:12.5px;top:252.54px;width:48px;height:8.2px"></div><div class="hv" style="left:69.1px;top:253.24px;height:8.2px;line-height:8.2px">23</div></div><div class="card " style="left:644.6px;top:1913.56px;width:427.8px;height:272.84px"><div class="ct"><span>Total sales by POS location</span></div><div class="nodata" style="top:142px">No data for this date range</div></div><div class="card " style="left:1085.2px;top:1913.56px;width:427.8px;height:272.84px"><div class="ct"><span>Products by sell-through rate</span></div><div class="hl" style="left:12.3px;top:38.04px">1pc effet injection whitening face soap anti-spot. · Default Title · None</div><div class="hb b1" style="left:12.3px;top:51.34px;width:291.16px;height:8.2px"></div><div class="hv" style="left:312.06px;top:52.04px;height:8.2px;line-height:8.2px">16.33% <span class="tr dn sm2" style="font-weight:normal;letter-spacing:.3px"><svg class="ar" viewBox="0 0 8 8"><path d="M2.2 1.6h4.2v4.2M6.2 1.8L1.6 6.4" fill="none" stroke="currentColor" stroke-width="1.7"/></svg>717%</span></div><div class="hb b2" style="left:12.3px;top:61.74px;width:35.66px;height:8.2px"></div><div class="hv" style="left:56.56px;top:62.44px;height:8.2px;line-height:8.2px">2%</div><div class="hl" style="left:12.3px;top:85.74px">Phyto Colly Glutathione Brighten Skin 5000mg Anti-Aging Potent Antioxidant NEW · Default Titl...</div><div class="hb b1" style="left:12.3px;top:99.04px;width:178.3px;height:8.2px"></div><div class="hv" style="left:199.2px;top:99.74px;height:8.2px;line-height:8.2px">10% <span class="tr no sm2"><i class="dash"></i></span></div><div class="hb b2" style="left:12.3px;top:109.44px;width:1px;height:8.2px"></div><div class="hv" style="left:21.9px;top:110.14px;height:8.2px;line-height:8.2px">0%</div><div class="hl" style="left:12.3px;top:133.44px">Filter White Extra Whitening and polishing body skincare set. · Default Title · None</div><div class="hb b1" style="left:12.3px;top:146.74px;width:142.64px;height:8.2px"></div><div class="hv" style="left:163.54px;top:147.44px;height:8.2px;line-height:8.2px">8% <span class="tr no sm2"><i class="dash"></i></span></div><div class="hb b2" style="left:12.3px;top:157.14px;width:1px;height:8.2px"></div><div class="hv" style="left:21.9px;top:157.84px;height:8.2px;line-height:8.2px">0%</div><div class="hl" style="left:12.3px;top:181.14px">Anti-Acne, black spot remover and repair face kit · Default Title · None</div><div class="hb b1" style="left:12.3px;top:194.44px;width:111.44px;height:8.2px"></div><div class="hv" style="left:132.34px;top:195.14px;height:8.2px;line-height:8.2px">6.25% <span class="tr no sm2"><i class="dash"></i></span></div><div class="hb b2" style="left:12.3px;top:204.84px;width:1px;height:8.2px"></div><div class="hv" style="left:21.9px;top:205.54px;height:8.2px;line-height:8.2px">0%</div><div class="hl" style="left:12.3px;top:228.84px">Extra bleaching, whitening and brightening Japonaise body and facial oil. Super effective · Def...</div><div class="hb b1" style="left:12.3px;top:242.14px;width:99.49px;height:8.2px"></div><div class="hv" style="left:120.39px;top:242.84px;height:8.2px;line-height:8.2px">5.58% <span class="tr dn sm2" style="font-weight:normal;letter-spacing:.3px"><svg class="ar" viewBox="0 0 8 8"><path d="M2.2 1.6h4.2v4.2M6.2 1.8L1.6 6.4" fill="none" stroke="currentColor" stroke-width="1.7"/></svg>272%</span></div><div class="hb b2" style="left:12.3px;top:252.54px;width:26.74px;height:8.2px"></div><div class="hv" style="left:47.64px;top:253.24px;height:8.2px;line-height:8.2px">1.5%</div></div><div class="card " style="left:204px;top:2199.72px;width:427.8px;height:272.84px"><div class="ct"><span>POS staff sales total</span></div><div class="nodata" style="top:142px">No data for this date range</div></div><div class="abs" style="left:190px;top:2505px;width:1348px;height:1px;background:#e0e0e0"></div><div class="abs" style="left:204px;top:2529.4px;width:1309px;text-align:center;font-size:9.5px;line-height:12px;color:#303030;letter-spacing:.28px">Learn more about <span style="text-decoration:underline">analytics</span></div></body></html>
